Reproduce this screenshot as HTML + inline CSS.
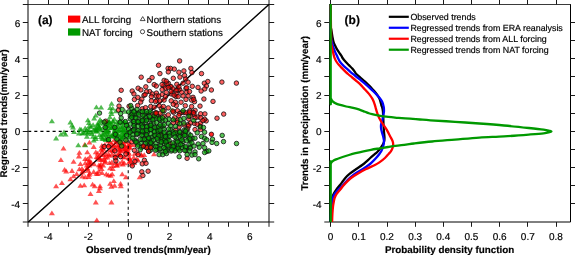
<!DOCTYPE html>
<html><head><meta charset="utf-8"><style>
html,body{margin:0;padding:0;background:#fff;}
body{width:575px;height:255px;overflow:hidden;position:relative;}
svg{position:absolute;left:0;top:0;will-change:transform;}
text{font-family:"Liberation Sans", sans-serif;stroke:#000;stroke-width:0.18px;text-rendering:geometricPrecision;}
</style></head><body>
<svg width="575" height="255" viewBox="0 0 575 255">
<path d="M27.5 4.5H269.5" stroke="#3a3a3a" stroke-width="1.1"/>
<path d="M28.0 4.5V222.0H269.0V4.5" fill="none" stroke="#000" stroke-width="1"/>
<path d="M28.0 0V4.5M28.0 222.0V226.8M48.5 0V4.5M48.5 222.0V226.8M68.5 0V4.5M68.5 222.0V226.8M88.5 0V4.5M88.5 222.0V226.8M108.5 0V4.5M108.5 222.0V226.8M128.5 0V4.5M128.5 222.0V226.8M148.5 0V4.5M148.5 222.0V226.8M168.5 0V4.5M168.5 222.0V226.8M188.5 0V4.5M188.5 222.0V226.8M208.5 0V4.5M208.5 222.0V226.8M228.5 0V4.5M228.5 222.0V226.8M248.5 0V4.5M248.5 222.0V226.8M269.0 0V4.5M269.0 222.0V226.8M22.80 222.0H28.0M269.0 222.0H274.20M22.80 203.5H28.0M269.0 203.5H274.20M22.80 185.5H28.0M269.0 185.5H274.20M22.80 167.5H28.0M269.0 167.5H274.20M22.80 149.5H28.0M269.0 149.5H274.20M22.80 131.5H28.0M269.0 131.5H274.20M22.80 113.5H28.0M269.0 113.5H274.20M22.80 95.5H28.0M269.0 95.5H274.20M22.80 76.5H28.0M269.0 76.5H274.20M22.80 58.5H28.0M269.0 58.5H274.20M22.80 40.5H28.0M269.0 40.5H274.20M22.80 22.5H28.0M269.0 22.5H274.20M22.80 4.5H28.0M269.0 4.5H274.20" stroke="#1a1a1a" stroke-width="1" fill="none"/>
<path d="M329.0 4.5H571.0" stroke="#3a3a3a" stroke-width="1.1"/>
<path d="M329.5 4.5V222.0H570.5V4.5" fill="none" stroke="#000" stroke-width="1"/>
<path d="M330.5 0V4.5M330.5 222.0V226.8M358.5 0V4.5M358.5 222.0V226.8M387.5 0V4.5M387.5 222.0V226.8M415.5 0V4.5M415.5 222.0V226.8M443.5 0V4.5M443.5 222.0V226.8M471.5 0V4.5M471.5 222.0V226.8M499.5 0V4.5M499.5 222.0V226.8M527.5 0V4.5M527.5 222.0V226.8M556.5 0V4.5M556.5 222.0V226.8M324.30 222.0H329.5M324.30 203.5H329.5M570.5 203.5H575.70M324.30 185.5H329.5M570.5 185.5H575.70M324.30 167.5H329.5M570.5 167.5H575.70M324.30 149.5H329.5M570.5 149.5H575.70M324.30 131.5H329.5M570.5 131.5H575.70M324.30 113.5H329.5M570.5 113.5H575.70M324.30 95.5H329.5M570.5 95.5H575.70M324.30 76.5H329.5M570.5 76.5H575.70M324.30 58.5H329.5M570.5 58.5H575.70M324.30 40.5H329.5M570.5 40.5H575.70M324.30 22.5H329.5M570.5 22.5H575.70" stroke="#1a1a1a" stroke-width="1" fill="none"/>
<text x="20.20" y="207.93" font-size="10" text-anchor="end" font-weight="normal" >-4</text>
<text x="321.60" y="207.93" font-size="10" text-anchor="end" font-weight="normal" >-4</text>
<text x="48.15" y="240.20" font-size="10" text-anchor="middle" font-weight="normal" >-4</text>
<text x="20.20" y="171.67" font-size="10" text-anchor="end" font-weight="normal" >-2</text>
<text x="321.60" y="171.67" font-size="10" text-anchor="end" font-weight="normal" >-2</text>
<text x="88.25" y="240.20" font-size="10" text-anchor="middle" font-weight="normal" >-2</text>
<text x="20.20" y="135.41" font-size="10" text-anchor="end" font-weight="normal" >0</text>
<text x="321.60" y="135.41" font-size="10" text-anchor="end" font-weight="normal" >0</text>
<text x="129.55" y="240.20" font-size="10" text-anchor="middle" font-weight="normal" >0</text>
<text x="20.20" y="99.15" font-size="10" text-anchor="end" font-weight="normal" >2</text>
<text x="321.60" y="99.15" font-size="10" text-anchor="end" font-weight="normal" >2</text>
<text x="169.65" y="240.20" font-size="10" text-anchor="middle" font-weight="normal" >2</text>
<text x="20.20" y="62.89" font-size="10" text-anchor="end" font-weight="normal" >4</text>
<text x="321.60" y="62.89" font-size="10" text-anchor="end" font-weight="normal" >4</text>
<text x="209.75" y="240.20" font-size="10" text-anchor="middle" font-weight="normal" >4</text>
<text x="20.20" y="26.63" font-size="10" text-anchor="end" font-weight="normal" >6</text>
<text x="321.60" y="26.63" font-size="10" text-anchor="end" font-weight="normal" >6</text>
<text x="249.85" y="240.20" font-size="10" text-anchor="middle" font-weight="normal" >6</text>
<text x="330.60" y="240.20" font-size="10" text-anchor="middle" font-weight="normal" >0</text>
<text x="358.77" y="240.20" font-size="10" text-anchor="middle" font-weight="normal" >0.1</text>
<text x="386.94" y="240.20" font-size="10" text-anchor="middle" font-weight="normal" >0.2</text>
<text x="415.11" y="240.20" font-size="10" text-anchor="middle" font-weight="normal" >0.3</text>
<text x="443.28" y="240.20" font-size="10" text-anchor="middle" font-weight="normal" >0.4</text>
<text x="471.45" y="240.20" font-size="10" text-anchor="middle" font-weight="normal" >0.5</text>
<text x="499.62" y="240.20" font-size="10" text-anchor="middle" font-weight="normal" >0.6</text>
<text x="527.79" y="240.20" font-size="10" text-anchor="middle" font-weight="normal" >0.7</text>
<text x="555.96" y="240.20" font-size="10" text-anchor="middle" font-weight="normal" >0.8</text>
<text x="148.30" y="253.20" font-size="9.8" text-anchor="middle" font-weight="bold" >Observed trends(mm/year)</text>
<text x="449.60" y="253.00" font-size="9.82" text-anchor="middle" font-weight="bold" >Probability density function</text>
<text transform="translate(6.7,113.3) rotate(-90)" font-size="9.7" font-weight="bold" text-anchor="middle">Regressed trends(mm/year)</text>
<text transform="translate(307.7,113.3) rotate(-90)" font-size="9.8" font-weight="bold" text-anchor="middle">Trends in precipitation (mm/year)</text>
<text x="37.90" y="24.20" font-size="12" text-anchor="start" font-weight="bold" >(a)</text>
<text x="344.60" y="24.20" font-size="12" text-anchor="start" font-weight="bold" >(b)</text>
<g id="scatter">
<path d="M28.30 221.96L268.90 4.40" stroke="#000" stroke-width="1.3"/>
<path d="M138.3 156.8L141.3 152.0L144.3 156.8Z" fill="rgba(255,0,0,0.68)"/>
<path d="M151.0 156.3L154.0 151.5L157.0 156.3Z" fill="rgba(255,0,0,0.68)"/>
<path d="M98.6 170.9L101.6 166.1L104.6 170.9Z" fill="rgba(255,0,0,0.68)"/>
<path d="M101.8 164.5L104.8 159.7L107.8 164.5Z" fill="rgba(255,0,0,0.68)"/>
<path d="M103.3 176.2L106.3 171.4L109.3 176.2Z" fill="rgba(255,0,0,0.68)"/>
<path d="M107.6 177.8L110.6 173.0L113.6 177.8Z" fill="rgba(255,0,0,0.68)"/>
<path d="M109.7 170.9L112.7 166.1L115.7 170.9Z" fill="rgba(255,0,0,0.68)"/>
<path d="M109.2 176.2L112.2 171.4L115.2 176.2Z" fill="rgba(255,0,0,0.68)"/>
<path d="M110.8 183.1L113.8 178.3L116.8 183.1Z" fill="rgba(255,0,0,0.68)"/>
<path d="M107.1 185.7L110.1 180.9L113.1 185.7Z" fill="rgba(255,0,0,0.68)"/>
<path d="M119.2 176.2L122.2 171.4L125.2 176.2Z" fill="rgba(255,0,0,0.68)"/>
<path d="M122.9 179.3L125.9 174.5L128.9 179.3Z" fill="rgba(255,0,0,0.68)"/>
<path d="M119.8 166.6L122.8 161.8L125.8 166.6Z" fill="rgba(255,0,0,0.68)"/>
<path d="M113.9 167.7L116.9 162.9L119.9 167.7Z" fill="rgba(255,0,0,0.68)"/>
<path d="M136.7 179.3L139.7 174.5L142.7 179.3Z" fill="rgba(255,0,0,0.68)"/>
<path d="M135.1 162.4L138.1 157.6L141.1 162.4Z" fill="rgba(255,0,0,0.68)"/>
<path d="M117.6 185.7L120.6 180.9L123.6 185.7Z" fill="rgba(255,0,0,0.68)"/>
<path d="M60.5 150.5L63.5 145.7L66.5 150.5Z" fill="rgba(255,0,0,0.68)"/>
<path d="M57.9 162.1L60.9 157.3L63.9 162.1Z" fill="rgba(255,0,0,0.68)"/>
<path d="M70.6 163.7L73.6 158.9L76.6 163.7Z" fill="rgba(255,0,0,0.68)"/>
<path d="M76.4 154.7L79.4 149.9L82.4 154.7Z" fill="rgba(255,0,0,0.68)"/>
<path d="M75.9 158.4L78.9 153.6L81.9 158.4Z" fill="rgba(255,0,0,0.68)"/>
<path d="M84.3 154.2L87.3 149.4L90.3 154.2Z" fill="rgba(255,0,0,0.68)"/>
<path d="M81.7 146.8L84.7 142.0L87.7 146.8Z" fill="rgba(255,0,0,0.68)"/>
<path d="M86.4 144.6L89.4 139.8L92.4 144.6Z" fill="rgba(255,0,0,0.68)"/>
<path d="M90.7 148.9L93.7 144.1L96.7 148.9Z" fill="rgba(255,0,0,0.68)"/>
<path d="M92.8 154.2L95.8 149.4L98.8 154.2Z" fill="rgba(255,0,0,0.68)"/>
<path d="M82.2 161.1L85.2 156.3L88.2 161.1Z" fill="rgba(255,0,0,0.68)"/>
<path d="M86.4 162.6L89.4 157.8L92.4 162.6Z" fill="rgba(255,0,0,0.68)"/>
<path d="M94.9 159.5L97.9 154.7L100.9 159.5Z" fill="rgba(255,0,0,0.68)"/>
<path d="M77.4 166.0L80.4 161.2L83.4 166.0Z" fill="rgba(255,0,0,0.68)"/>
<path d="M61.6 171.8L64.6 167.0L67.6 171.8Z" fill="rgba(255,0,0,0.68)"/>
<path d="M63.2 173.4L66.2 168.6L69.2 173.4Z" fill="rgba(255,0,0,0.68)"/>
<path d="M69.0 172.9L72.0 168.1L75.0 172.9Z" fill="rgba(255,0,0,0.68)"/>
<path d="M76.4 171.3L79.4 166.5L82.4 171.3Z" fill="rgba(255,0,0,0.68)"/>
<path d="M73.7 176.1L76.7 171.3L79.7 176.1Z" fill="rgba(255,0,0,0.68)"/>
<path d="M70.6 178.2L73.6 173.4L76.6 178.2Z" fill="rgba(255,0,0,0.68)"/>
<path d="M67.4 181.3L70.4 176.5L73.4 181.3Z" fill="rgba(255,0,0,0.68)"/>
<path d="M58.9 185.1L61.9 180.3L64.9 185.1Z" fill="rgba(255,0,0,0.68)"/>
<path d="M53.1 188.2L56.1 183.4L59.1 188.2Z" fill="rgba(255,0,0,0.68)"/>
<path d="M82.2 179.2L85.2 174.4L88.2 179.2Z" fill="rgba(255,0,0,0.68)"/>
<path d="M90.7 173.9L93.7 169.1L96.7 173.9Z" fill="rgba(255,0,0,0.68)"/>
<path d="M99.1 175.0L102.1 170.2L105.1 175.0Z" fill="rgba(255,0,0,0.68)"/>
<path d="M77.4 187.7L80.4 182.9L83.4 187.7Z" fill="rgba(255,0,0,0.68)"/>
<path d="M81.2 187.2L84.2 182.4L87.2 187.2Z" fill="rgba(255,0,0,0.68)"/>
<path d="M89.6 186.6L92.6 181.8L95.6 186.6Z" fill="rgba(255,0,0,0.68)"/>
<path d="M91.7 188.2L94.7 183.4L97.7 188.2Z" fill="rgba(255,0,0,0.68)"/>
<path d="M97.0 188.2L100.0 183.4L103.0 188.2Z" fill="rgba(255,0,0,0.68)"/>
<path d="M84.3 170.2L87.3 165.4L90.3 170.2Z" fill="rgba(255,0,0,0.68)"/>
<path d="M86.4 167.6L89.4 162.8L92.4 167.6Z" fill="rgba(255,0,0,0.68)"/>
<path d="M96.9 190.2L99.9 185.4L102.9 190.2Z" fill="rgba(255,0,0,0.68)"/>
<path d="M95.9 193.0L98.9 188.2L101.9 193.0Z" fill="rgba(255,0,0,0.68)"/>
<path d="M87.5 196.1L90.5 191.3L93.5 196.1Z" fill="rgba(255,0,0,0.68)"/>
<path d="M92.8 204.4L95.8 199.6L98.8 204.4Z" fill="rgba(255,0,0,0.68)"/>
<path d="M108.4 204.4L111.4 199.6L114.4 204.4Z" fill="rgba(255,0,0,0.68)"/>
<path d="M108.4 188.8L111.4 184.0L114.4 188.8Z" fill="rgba(255,0,0,0.68)"/>
<path d="M111.6 187.7L114.6 182.9L117.6 187.7Z" fill="rgba(255,0,0,0.68)"/>
<path d="M117.8 188.2L120.8 183.4L123.8 188.2Z" fill="rgba(255,0,0,0.68)"/>
<path d="M105.3 177.3L108.3 172.5L111.3 177.3Z" fill="rgba(255,0,0,0.68)"/>
<path d="M48.9 215.3L51.9 210.5L54.9 215.3Z" fill="rgba(255,0,0,0.68)"/>
<path d="M93.8 222.2L96.8 217.4L99.8 222.2Z" fill="rgba(255,0,0,0.68)"/>
<path d="M141.2 157.1L144.2 152.3L147.2 157.1Z" fill="rgba(255,0,0,0.68)"/>
<path d="M109.8 153.3L112.8 148.5L115.8 153.3Z" fill="rgba(255,0,0,0.68)"/>
<path d="M106.5 165.0L109.5 160.2L112.5 165.0Z" fill="rgba(255,0,0,0.68)"/>
<path d="M105.2 147.5L108.2 142.7L111.2 147.5Z" fill="rgba(255,0,0,0.68)"/>
<path d="M97.4 156.6L100.4 151.8L103.4 156.6Z" fill="rgba(255,0,0,0.68)"/>
<path d="M98.1 151.8L101.1 147.0L104.1 151.8Z" fill="rgba(255,0,0,0.68)"/>
<path d="M99.2 153.7L102.2 148.9L105.2 153.7Z" fill="rgba(255,0,0,0.68)"/>
<path d="M94.8 176.1L97.8 171.3L100.8 176.1Z" fill="rgba(255,0,0,0.68)"/>
<path d="M102.3 163.2L105.3 158.4L108.3 163.2Z" fill="rgba(255,0,0,0.68)"/>
<path d="M110.1 148.4L113.1 143.6L116.1 148.4Z" fill="rgba(255,0,0,0.68)"/>
<path d="M125.0 147.6L128.0 142.8L131.0 147.6Z" fill="rgba(255,0,0,0.68)"/>
<path d="M99.0 162.0L102.0 157.2L105.0 162.0Z" fill="rgba(255,0,0,0.68)"/>
<path d="M93.4 175.7L96.4 170.9L99.4 175.7Z" fill="rgba(255,0,0,0.68)"/>
<path d="M121.8 159.3L124.8 154.5L127.8 159.3Z" fill="rgba(255,0,0,0.68)"/>
<path d="M112.6 160.3L115.6 155.5L118.6 160.3Z" fill="rgba(255,0,0,0.68)"/>
<path d="M111.4 147.8L114.4 143.0L117.4 147.8Z" fill="rgba(255,0,0,0.68)"/>
<path d="M122.2 151.8L125.2 147.0L128.2 151.8Z" fill="rgba(255,0,0,0.68)"/>
<path d="M122.4 153.4L125.4 148.6L128.4 153.4Z" fill="rgba(255,0,0,0.68)"/>
<path d="M101.2 161.5L104.2 156.7L107.2 161.5Z" fill="rgba(255,0,0,0.68)"/>
<path d="M108.9 164.2L111.9 159.4L114.9 164.2Z" fill="rgba(255,0,0,0.68)"/>
<path d="M107.4 144.2L110.4 139.4L113.4 144.2Z" fill="rgba(255,0,0,0.68)"/>
<path d="M122.2 148.8L125.2 144.0L128.2 148.8Z" fill="rgba(255,0,0,0.68)"/>
<path d="M113.7 143.6L116.7 138.8L119.7 143.6Z" fill="rgba(255,0,0,0.68)"/>
<path d="M109.0 152.0L112.0 147.2L115.0 152.0Z" fill="rgba(255,0,0,0.68)"/>
<path d="M86.8 175.4L89.8 170.6L92.8 175.4Z" fill="rgba(255,0,0,0.68)"/>
<path d="M119.4 150.8L122.4 146.0L125.4 150.8Z" fill="rgba(255,0,0,0.68)"/>
<path d="M97.0 169.3L100.0 164.5L103.0 169.3Z" fill="rgba(255,0,0,0.68)"/>
<path d="M83.9 167.5L86.9 162.7L89.9 167.5Z" fill="rgba(255,0,0,0.68)"/>
<path d="M79.3 178.5L82.3 173.7L85.3 178.5Z" fill="rgba(255,0,0,0.68)"/>
<path d="M117.3 147.4L120.3 142.6L123.3 147.4Z" fill="rgba(255,0,0,0.68)"/>
<path d="M126.5 147.2L129.5 142.4L132.5 147.2Z" fill="rgba(255,0,0,0.68)"/>
<path d="M107.0 170.3L110.0 165.5L113.0 170.3Z" fill="rgba(255,0,0,0.68)"/>
<path d="M99.6 150.1L102.6 145.3L105.6 150.1Z" fill="rgba(255,0,0,0.68)"/>
<path d="M120.5 146.3L123.5 141.5L126.5 146.3Z" fill="rgba(255,0,0,0.68)"/>
<path d="M105.4 156.6L108.4 151.8L111.4 156.6Z" fill="rgba(255,0,0,0.68)"/>
<path d="M101.8 146.9L104.8 142.1L107.8 146.9Z" fill="rgba(255,0,0,0.68)"/>
<path d="M124.9 151.4L127.9 146.6L130.9 151.4Z" fill="rgba(255,0,0,0.68)"/>
<path d="M106.5 157.7L109.5 152.9L112.5 157.7Z" fill="rgba(255,0,0,0.68)"/>
<path d="M87.1 158.6L90.1 153.8L93.1 158.6Z" fill="rgba(255,0,0,0.68)"/>
<path d="M88.0 164.4L91.0 159.6L94.0 164.4Z" fill="rgba(255,0,0,0.68)"/>
<path d="M111.9 151.3L114.9 146.5L117.9 151.3Z" fill="rgba(255,0,0,0.68)"/>
<path d="M97.0 161.8L100.0 157.0L103.0 161.8Z" fill="rgba(255,0,0,0.68)"/>
<path d="M102.1 159.4L105.1 154.6L108.1 159.4Z" fill="rgba(255,0,0,0.68)"/>
<path d="M91.1 166.3L94.1 161.5L97.1 166.3Z" fill="rgba(255,0,0,0.68)"/>
<path d="M86.0 176.7L89.0 171.9L92.0 176.7Z" fill="rgba(255,0,0,0.68)"/>
<path d="M105.2 143.3L108.2 138.5L111.2 143.3Z" fill="rgba(255,0,0,0.68)"/>
<path d="M116.7 155.6L119.7 150.8L122.7 155.6Z" fill="rgba(255,0,0,0.68)"/>
<path d="M106.7 152.6L109.7 147.8L112.7 152.6Z" fill="rgba(255,0,0,0.68)"/>
<path d="M126.1 155.8L129.1 151.0L132.1 155.8Z" fill="rgba(255,0,0,0.68)"/>
<path d="M96.4 160.2L99.4 155.4L102.4 160.2Z" fill="rgba(255,0,0,0.68)"/>
<path d="M85.8 164.3L88.8 159.5L91.8 164.3Z" fill="rgba(255,0,0,0.68)"/>
<path d="M79.0 170.7L82.0 165.9L85.0 170.7Z" fill="rgba(255,0,0,0.68)"/>
<path d="M95.4 159.4L98.4 154.6L101.4 159.4Z" fill="rgba(255,0,0,0.68)"/>
<path d="M114.2 156.7L117.2 151.9L120.2 156.7Z" fill="rgba(255,0,0,0.68)"/>
<path d="M79.2 174.5L82.2 169.7L85.2 174.5Z" fill="rgba(255,0,0,0.68)"/>
<path d="M111.0 142.3L114.0 137.5L117.0 142.3Z" fill="rgba(255,0,0,0.68)"/>
<path d="M93.6 159.1L96.6 154.3L99.6 159.1Z" fill="rgba(255,0,0,0.68)"/>
<path d="M116.5 151.8L119.5 147.0L122.5 151.8Z" fill="rgba(255,0,0,0.68)"/>
<path d="M100.4 151.4L103.4 146.6L106.4 151.4Z" fill="rgba(255,0,0,0.68)"/>
<path d="M97.2 167.8L100.2 163.0L103.2 167.8Z" fill="rgba(255,0,0,0.68)"/>
<path d="M117.5 145.0L120.5 140.2L123.5 145.0Z" fill="rgba(255,0,0,0.68)"/>
<path d="M108.7 146.3L111.7 141.5L114.7 146.3Z" fill="rgba(255,0,0,0.68)"/>
<path d="M109.9 167.9L112.9 163.1L115.9 167.9Z" fill="rgba(255,0,0,0.68)"/>
<path d="M111.6 157.1L114.6 152.3L117.6 157.1Z" fill="rgba(255,0,0,0.68)"/>
<path d="M84.4 161.2L87.4 156.4L90.4 161.2Z" fill="rgba(255,0,0,0.68)"/>
<path d="M100.1 157.1L103.1 152.3L106.1 157.1Z" fill="rgba(255,0,0,0.68)"/>
<path d="M125.0 154.2L128.0 149.4L131.0 154.2Z" fill="rgba(255,0,0,0.68)"/>
<path d="M113.8 167.0L116.8 162.2L119.8 167.0Z" fill="rgba(255,0,0,0.68)"/>
<path d="M86.7 165.5L89.7 160.7L92.7 165.5Z" fill="rgba(255,0,0,0.68)"/>
<path d="M95.9 167.3L98.9 162.5L101.9 167.3Z" fill="rgba(255,0,0,0.68)"/>
<path d="M112.9 165.0L115.9 160.2L118.9 165.0Z" fill="rgba(255,0,0,0.68)"/>
<path d="M80.2 173.1L83.2 168.3L86.2 173.1Z" fill="rgba(255,0,0,0.68)"/>
<path d="M114.9 149.1L117.9 144.3L120.9 149.1Z" fill="rgba(255,0,0,0.68)"/>
<path d="M85.0 172.7L88.0 167.9L91.0 172.7Z" fill="rgba(255,0,0,0.68)"/>
<path d="M82.2 165.2L85.2 160.4L88.2 165.2Z" fill="rgba(255,0,0,0.68)"/>
<path d="M104.4 159.5L107.4 154.7L110.4 159.5Z" fill="rgba(255,0,0,0.68)"/>
<path d="M85.7 179.0L88.7 174.2L91.7 179.0Z" fill="rgba(255,0,0,0.68)"/>
<path d="M100.2 167.6L103.2 162.8L106.2 167.6Z" fill="rgba(255,0,0,0.68)"/>
<path d="M84.0 170.6L87.0 165.8L90.0 170.6Z" fill="rgba(255,0,0,0.68)"/>
<path d="M115.8 157.1L118.8 152.3L121.8 157.1Z" fill="rgba(255,0,0,0.68)"/>
<path d="M103.0 156.2L106.0 151.4L109.0 156.2Z" fill="rgba(255,0,0,0.68)"/>
<path d="M122.6 144.3L125.6 139.5L128.6 144.3Z" fill="rgba(255,0,0,0.68)"/>
<path d="M117.9 153.2L120.9 148.4L123.9 153.2Z" fill="rgba(255,0,0,0.68)"/>
<path d="M109.0 156.6L112.0 151.8L115.0 156.6Z" fill="rgba(255,0,0,0.68)"/>
<path d="M118.7 144.9L121.7 140.1L124.7 144.9Z" fill="rgba(255,0,0,0.68)"/>
<path d="M116.5 165.8L119.5 161.0L122.5 165.8Z" fill="rgba(255,0,0,0.68)"/>
<path d="M94.7 155.5L97.7 150.7L100.7 155.5Z" fill="rgba(255,0,0,0.68)"/>
<path d="M98.8 147.8L101.8 143.0L104.8 147.8Z" fill="rgba(255,0,0,0.68)"/>
<path d="M98.0 166.2L101.0 161.4L104.0 166.2Z" fill="rgba(255,0,0,0.68)"/>
<path d="M116.3 150.4L119.3 145.6L122.3 150.4Z" fill="rgba(255,0,0,0.68)"/>
<path d="M95.8 173.4L98.8 168.6L101.8 173.4Z" fill="rgba(255,0,0,0.68)"/>
<path d="M117.5 145.4L120.5 140.6L123.5 145.4Z" fill="rgba(255,0,0,0.68)"/>
<path d="M123.1 143.3L126.1 138.5L129.1 143.3Z" fill="rgba(255,0,0,0.68)"/>
<path d="M121.1 151.2L124.1 146.4L127.1 151.2Z" fill="rgba(255,0,0,0.68)"/>
<path d="M113.2 143.7L116.2 138.9L119.2 143.7Z" fill="rgba(255,0,0,0.68)"/>
<path d="M119.2 163.6L122.2 158.8L125.2 163.6Z" fill="rgba(255,0,0,0.68)"/>
<path d="M114.1 147.3L117.1 142.5L120.1 147.3Z" fill="rgba(255,0,0,0.68)"/>
<path d="M126.6 149.1L129.6 144.3L132.6 149.1Z" fill="rgba(255,0,0,0.68)"/>
<path d="M123.6 152.8L126.6 148.0L129.6 152.8Z" fill="rgba(255,0,0,0.68)"/>
<path d="M117.3 157.1L120.3 152.3L123.3 157.1Z" fill="rgba(255,0,0,0.68)"/>
<path d="M125.5 160.2L128.5 155.4L131.5 160.2Z" fill="rgba(255,0,0,0.68)"/>
<path d="M125.0 156.8L128.0 152.0L131.0 156.8Z" fill="rgba(255,0,0,0.68)"/>
<path d="M120.1 159.2L123.1 154.4L126.1 159.2Z" fill="rgba(255,0,0,0.68)"/>
<path d="M121.3 165.2L124.3 160.4L127.3 165.2Z" fill="rgba(255,0,0,0.68)"/>
<path d="M125.9 164.6L128.9 159.8L131.9 164.6Z" fill="rgba(255,0,0,0.68)"/>
<path d="M116.7 152.5L119.7 147.7L122.7 152.5Z" fill="rgba(255,0,0,0.68)"/>
<path d="M122.0 148.4L125.0 143.6L128.0 148.4Z" fill="rgba(255,0,0,0.68)"/>
<path d="M127.3 162.4L130.3 157.6L133.3 162.4Z" fill="rgba(255,0,0,0.68)"/>
<path d="M117.8 142.7L120.8 137.9L123.8 142.7Z" fill="rgba(255,0,0,0.68)"/>
<path d="M128.4 166.4L131.4 161.6L134.4 166.4Z" fill="rgba(255,0,0,0.68)"/>
<path d="M126.9 160.5L129.9 155.7L132.9 160.5Z" fill="rgba(255,0,0,0.68)"/>
<path d="M126.3 150.0L129.3 145.2L132.3 150.0Z" fill="rgba(255,0,0,0.68)"/>
<path d="M134.6 154.9L137.6 150.1L140.6 154.9Z" fill="rgba(255,0,0,0.68)"/>
<path d="M131.8 155.7L134.8 150.9L137.8 155.7Z" fill="rgba(255,0,0,0.68)"/>
<path d="M127.9 163.4L130.9 158.6L133.9 163.4Z" fill="rgba(255,0,0,0.68)"/>
<path d="M131.1 165.0L134.1 160.2L137.1 165.0Z" fill="rgba(255,0,0,0.68)"/>
<path d="M130.7 146.9L133.7 142.1L136.7 146.9Z" fill="rgba(255,0,0,0.68)"/>
<path d="M130.7 159.5L133.7 154.7L136.7 159.5Z" fill="rgba(255,0,0,0.68)"/>
<path d="M138.5 157.7L141.5 152.9L144.5 157.7Z" fill="rgba(255,0,0,0.68)"/>
<path d="M127.1 145.8L130.1 141.0L133.1 145.8Z" fill="rgba(255,0,0,0.68)"/>
<path d="M133.7 161.1L136.7 156.3L139.7 161.1Z" fill="rgba(255,0,0,0.68)"/>
<path d="M28.30 221.96L268.90 4.40" stroke="#000" stroke-opacity="0.35" stroke-width="1.2"/>
<path d="M28.30 131.4H128.55" stroke="#000" stroke-width="1.2" fill="none" stroke-dasharray="3.05 3.05" stroke-dashoffset="0.1"/>
<path d="M128.25 131.3V222" stroke="#000" stroke-opacity="0.85" stroke-width="1.2" fill="none" stroke-dasharray="3.05 3.05" stroke-dashoffset="3.8"/>
<path d="M159.7 113.7L162.7 108.9L165.7 113.7Z" fill="rgba(0,155,0,0.68)"/>
<path d="M168.9 112.3L171.9 107.5L174.9 112.3Z" fill="rgba(0,155,0,0.68)"/>
<path d="M108.6 105.8L111.6 101.0L114.6 105.8Z" fill="rgba(0,155,0,0.68)"/>
<path d="M107.1 110.0L110.1 105.2L113.1 110.0Z" fill="rgba(0,155,0,0.68)"/>
<path d="M109.7 110.5L112.7 105.7L115.7 110.5Z" fill="rgba(0,155,0,0.68)"/>
<path d="M98.1 109.5L101.1 104.7L104.1 109.5Z" fill="rgba(0,155,0,0.68)"/>
<path d="M122.4 113.7L125.4 108.9L128.4 113.7Z" fill="rgba(0,155,0,0.68)"/>
<path d="M112.9 113.2L115.9 108.4L118.9 113.2Z" fill="rgba(0,155,0,0.68)"/>
<path d="M108.1 113.7L111.1 108.9L114.1 113.7Z" fill="rgba(0,155,0,0.68)"/>
<path d="M53.1 140.4L56.1 135.6L59.1 140.4Z" fill="rgba(0,155,0,0.68)"/>
<path d="M75.3 147.3L78.3 142.5L81.3 147.3Z" fill="rgba(0,155,0,0.68)"/>
<path d="M82.2 147.3L85.2 142.5L88.2 147.3Z" fill="rgba(0,155,0,0.68)"/>
<path d="M90.7 142.5L93.7 137.7L96.7 142.5Z" fill="rgba(0,155,0,0.68)"/>
<path d="M99.1 140.4L102.1 135.6L105.1 140.4Z" fill="rgba(0,155,0,0.68)"/>
<path d="M48.9 123.3L51.9 118.5L54.9 123.3Z" fill="rgba(0,155,0,0.68)"/>
<path d="M67.4 124.4L70.4 119.6L73.4 124.4Z" fill="rgba(0,155,0,0.68)"/>
<path d="M69.0 127.5L72.0 122.7L75.0 127.5Z" fill="rgba(0,155,0,0.68)"/>
<path d="M70.0 129.6L73.0 124.8L76.0 129.6Z" fill="rgba(0,155,0,0.68)"/>
<path d="M61.0 134.4L64.0 129.6L67.0 134.4Z" fill="rgba(0,155,0,0.68)"/>
<path d="M57.9 136.5L60.9 131.7L63.9 136.5Z" fill="rgba(0,155,0,0.68)"/>
<path d="M62.6 136.5L65.6 131.7L68.6 136.5Z" fill="rgba(0,155,0,0.68)"/>
<path d="M71.1 133.9L74.1 129.1L77.1 133.9Z" fill="rgba(0,155,0,0.68)"/>
<path d="M76.9 131.2L79.9 126.4L82.9 131.2Z" fill="rgba(0,155,0,0.68)"/>
<path d="M75.9 135.5L78.9 130.7L81.9 135.5Z" fill="rgba(0,155,0,0.68)"/>
<path d="M80.6 134.9L83.6 130.1L86.6 134.9Z" fill="rgba(0,155,0,0.68)"/>
<path d="M82.2 130.2L85.2 125.4L88.2 130.2Z" fill="rgba(0,155,0,0.68)"/>
<path d="M84.9 122.2L87.9 117.4L90.9 122.2Z" fill="rgba(0,155,0,0.68)"/>
<path d="M85.9 124.9L88.9 120.1L91.9 124.9Z" fill="rgba(0,155,0,0.68)"/>
<path d="M86.4 128.1L89.4 123.3L92.4 128.1Z" fill="rgba(0,155,0,0.68)"/>
<path d="M91.2 120.6L94.2 115.8L97.2 120.6Z" fill="rgba(0,155,0,0.68)"/>
<path d="M92.8 117.5L95.8 112.7L98.8 117.5Z" fill="rgba(0,155,0,0.68)"/>
<path d="M90.1 127.0L93.1 122.2L96.1 127.0Z" fill="rgba(0,155,0,0.68)"/>
<path d="M97.0 121.7L100.0 116.9L103.0 121.7Z" fill="rgba(0,155,0,0.68)"/>
<path d="M96.0 124.9L99.0 120.1L102.0 124.9Z" fill="rgba(0,155,0,0.68)"/>
<path d="M85.4 134.4L88.4 129.6L91.4 134.4Z" fill="rgba(0,155,0,0.68)"/>
<path d="M93.4 109.3L96.4 104.5L99.4 109.3Z" fill="rgba(0,155,0,0.68)"/>
<path d="M106.9 119.2L109.9 114.4L112.9 119.2Z" fill="rgba(0,155,0,0.68)"/>
<path d="M108.5 116.1L111.5 111.3L114.5 116.1Z" fill="rgba(0,155,0,0.68)"/>
<path d="M105.9 123.5L108.9 118.7L111.9 123.5Z" fill="rgba(0,155,0,0.68)"/>
<path d="M110.1 123.5L113.1 118.7L116.1 123.5Z" fill="rgba(0,155,0,0.68)"/>
<path d="M103.7 127.2L106.7 122.4L109.7 127.2Z" fill="rgba(0,155,0,0.68)"/>
<path d="M114.3 126.6L117.3 121.8L120.3 126.6Z" fill="rgba(0,155,0,0.68)"/>
<path d="M83.9 138.8L86.9 134.0L89.9 138.8Z" fill="rgba(0,155,0,0.68)"/>
<path d="M116.0 125.2L119.0 120.4L122.0 125.2Z" fill="rgba(0,155,0,0.68)"/>
<path d="M102.3 129.6L105.3 124.8L108.3 129.6Z" fill="rgba(0,155,0,0.68)"/>
<path d="M110.2 137.4L113.2 132.6L116.2 137.4Z" fill="rgba(0,155,0,0.68)"/>
<path d="M119.6 129.3L122.6 124.5L125.6 129.3Z" fill="rgba(0,155,0,0.68)"/>
<path d="M99.7 135.9L102.7 131.1L105.7 135.9Z" fill="rgba(0,155,0,0.68)"/>
<path d="M78.3 131.8L81.3 127.0L84.3 131.8Z" fill="rgba(0,155,0,0.68)"/>
<path d="M124.9 128.1L127.9 123.3L130.9 128.1Z" fill="rgba(0,155,0,0.68)"/>
<path d="M88.0 129.0L91.0 124.2L94.0 129.0Z" fill="rgba(0,155,0,0.68)"/>
<path d="M99.3 130.7L102.3 125.9L105.3 130.7Z" fill="rgba(0,155,0,0.68)"/>
<path d="M119.7 132.1L122.7 127.3L125.7 132.1Z" fill="rgba(0,155,0,0.68)"/>
<path d="M109.8 123.6L112.8 118.8L115.8 123.6Z" fill="rgba(0,155,0,0.68)"/>
<path d="M113.8 135.7L116.8 130.9L119.8 135.7Z" fill="rgba(0,155,0,0.68)"/>
<path d="M119.3 134.7L122.3 129.9L125.3 134.7Z" fill="rgba(0,155,0,0.68)"/>
<path d="M92.5 132.8L95.5 128.0L98.5 132.8Z" fill="rgba(0,155,0,0.68)"/>
<path d="M122.0 138.8L125.0 134.0L128.0 138.8Z" fill="rgba(0,155,0,0.68)"/>
<path d="M102.8 132.8L105.8 128.0L108.8 132.8Z" fill="rgba(0,155,0,0.68)"/>
<path d="M117.7 128.8L120.7 124.0L123.7 128.8Z" fill="rgba(0,155,0,0.68)"/>
<path d="M85.8 131.9L88.8 127.1L91.8 131.9Z" fill="rgba(0,155,0,0.68)"/>
<path d="M112.9 134.8L115.9 130.0L118.9 134.8Z" fill="rgba(0,155,0,0.68)"/>
<path d="M96.1 129.4L99.1 124.6L102.1 129.4Z" fill="rgba(0,155,0,0.68)"/>
<path d="M102.9 137.2L105.9 132.4L108.9 137.2Z" fill="rgba(0,155,0,0.68)"/>
<path d="M103.6 128.3L106.6 123.5L109.6 128.3Z" fill="rgba(0,155,0,0.68)"/>
<path d="M79.2 135.5L82.2 130.7L85.2 135.5Z" fill="rgba(0,155,0,0.68)"/>
<path d="M127.1 132.9L130.1 128.1L133.1 132.9Z" fill="rgba(0,155,0,0.68)"/>
<path d="M102.6 141.9L105.6 137.1L108.6 141.9Z" fill="rgba(0,155,0,0.68)"/>
<path d="M116.3 131.7L119.3 126.9L122.3 131.7Z" fill="rgba(0,155,0,0.68)"/>
<path d="M120.9 124.6L123.9 119.8L126.9 124.6Z" fill="rgba(0,155,0,0.68)"/>
<path d="M106.5 129.9L109.5 125.1L112.5 129.9Z" fill="rgba(0,155,0,0.68)"/>
<path d="M90.7 131.9L93.7 127.1L96.7 131.9Z" fill="rgba(0,155,0,0.68)"/>
<path d="M117.0 138.2L120.0 133.4L123.0 138.2Z" fill="rgba(0,155,0,0.68)"/>
<path d="M122.2 136.3L125.2 131.5L128.2 136.3Z" fill="rgba(0,155,0,0.68)"/>
<path d="M118.3 131.2L121.3 126.4L124.3 131.2Z" fill="rgba(0,155,0,0.68)"/>
<path d="M106.1 123.9L109.1 119.1L112.1 123.9Z" fill="rgba(0,155,0,0.68)"/>
<path d="M95.2 127.3L98.2 122.5L101.2 127.3Z" fill="rgba(0,155,0,0.68)"/>
<path d="M104.5 133.6L107.5 128.8L110.5 133.6Z" fill="rgba(0,155,0,0.68)"/>
<path d="M108.2 129.8L111.2 125.0L114.2 129.8Z" fill="rgba(0,155,0,0.68)"/>
<path d="M120.9 137.7L123.9 132.9L126.9 137.7Z" fill="rgba(0,155,0,0.68)"/>
<path d="M90.0 138.7L93.0 133.9L96.0 138.7Z" fill="rgba(0,155,0,0.68)"/>
<path d="M111.3 121.2L114.3 116.4L117.3 121.2Z" fill="rgba(0,155,0,0.68)"/>
<path d="M82.6 133.7L85.6 128.9L88.6 133.7Z" fill="rgba(0,155,0,0.68)"/>
<path d="M113.3 129.8L116.3 125.0L119.3 129.8Z" fill="rgba(0,155,0,0.68)"/>
<path d="M93.4 130.2L96.4 125.4L99.4 130.2Z" fill="rgba(0,155,0,0.68)"/>
<path d="M98.5 123.6L101.5 118.8L104.5 123.6Z" fill="rgba(0,155,0,0.68)"/>
<path d="M103.0 124.1L106.0 119.3L109.0 124.1Z" fill="rgba(0,155,0,0.68)"/>
<path d="M107.9 138.1L110.9 133.3L113.9 138.1Z" fill="rgba(0,155,0,0.68)"/>
<path d="M84.5 135.8L87.5 131.0L90.5 135.8Z" fill="rgba(0,155,0,0.68)"/>
<path d="M111.6 131.8L114.6 127.0L117.6 131.8Z" fill="rgba(0,155,0,0.68)"/>
<path d="M88.4 134.2L91.4 129.4L94.4 134.2Z" fill="rgba(0,155,0,0.68)"/>
<path d="M97.1 132.5L100.1 127.7L103.1 132.5Z" fill="rgba(0,155,0,0.68)"/>
<path d="M93.4 133.8L96.4 129.0L99.4 133.8Z" fill="rgba(0,155,0,0.68)"/>
<path d="M126.4 139.4L129.4 134.6L132.4 139.4Z" fill="rgba(0,155,0,0.68)"/>
<path d="M92.6 139.0L95.6 134.2L98.6 139.0Z" fill="rgba(0,155,0,0.68)"/>
<path d="M92.8 140.9L95.8 136.1L98.8 140.9Z" fill="rgba(0,155,0,0.68)"/>
<path d="M114.9 128.9L117.9 124.1L120.9 128.9Z" fill="rgba(0,155,0,0.68)"/>
<path d="M118.8 141.4L121.8 136.6L124.8 141.4Z" fill="rgba(0,155,0,0.68)"/>
<path d="M112.9 131.0L115.9 126.2L118.9 131.0Z" fill="rgba(0,155,0,0.68)"/>
<path d="M92.1 130.8L95.1 126.0L98.1 130.8Z" fill="rgba(0,155,0,0.68)"/>
<path d="M127.3 137.3L130.3 132.5L133.3 137.3Z" fill="rgba(0,155,0,0.68)"/>
<path d="M111.4 138.6L114.4 133.8L117.4 138.6Z" fill="rgba(0,155,0,0.68)"/>
<path d="M122.0 135.1L125.0 130.3L128.0 135.1Z" fill="rgba(0,155,0,0.68)"/>
<path d="M89.0 136.0L92.0 131.2L95.0 136.0Z" fill="rgba(0,155,0,0.68)"/>
<path d="M123.5 124.2L126.5 119.4L129.5 124.2Z" fill="rgba(0,155,0,0.68)"/>
<path d="M115.7 133.1L118.7 128.3L121.7 133.1Z" fill="rgba(0,155,0,0.68)"/>
<path d="M119.9 127.8L122.9 123.0L125.9 127.8Z" fill="rgba(0,155,0,0.68)"/>
<path d="M94.4 126.0L97.4 121.2L100.4 126.0Z" fill="rgba(0,155,0,0.68)"/>
<path d="M121.2 133.2L124.2 128.4L127.2 133.2Z" fill="rgba(0,155,0,0.68)"/>
<path d="M83.9 132.0L86.9 127.2L89.9 132.0Z" fill="rgba(0,155,0,0.68)"/>
<path d="M122.4 132.3L125.4 127.5L128.4 132.3Z" fill="rgba(0,155,0,0.68)"/>
<path d="M124.2 129.8L127.2 125.0L130.2 129.8Z" fill="rgba(0,155,0,0.68)"/>
<path d="M114.2 136.9L117.2 132.1L120.2 136.9Z" fill="rgba(0,155,0,0.68)"/>
<path d="M118.2 140.7L121.2 135.9L124.2 140.7Z" fill="rgba(0,155,0,0.68)"/>
<path d="M94.0 131.1L97.0 126.3L100.0 131.1Z" fill="rgba(0,155,0,0.68)"/>
<path d="M125.1 134.9L128.1 130.1L131.1 134.9Z" fill="rgba(0,155,0,0.68)"/>
<path d="M108.9 126.5L111.9 121.7L114.9 126.5Z" fill="rgba(0,155,0,0.68)"/>
<path d="M111.5 133.4L114.5 128.6L117.5 133.4Z" fill="rgba(0,155,0,0.68)"/>
<path d="M102.5 140.5L105.5 135.7L108.5 140.5Z" fill="rgba(0,155,0,0.68)"/>
<path d="M119.0 124.7L122.0 119.9L125.0 124.7Z" fill="rgba(0,155,0,0.68)"/>
<path d="M120.1 124.2L123.1 119.4L126.1 124.2Z" fill="rgba(0,155,0,0.68)"/>
<path d="M114.0 124.0L117.0 119.2L120.0 124.0Z" fill="rgba(0,155,0,0.68)"/>
<path d="M100.1 125.8L103.1 121.0L106.1 125.8Z" fill="rgba(0,155,0,0.68)"/>
<path d="M126.4 139.6L129.4 134.8L132.4 139.6Z" fill="rgba(0,155,0,0.68)"/>
<path d="M111.3 135.5L114.3 130.7L117.3 135.5Z" fill="rgba(0,155,0,0.68)"/>
<path d="M100.0 141.1L103.0 136.3L106.0 141.1Z" fill="rgba(0,155,0,0.68)"/>
<path d="M123.4 127.6L126.4 122.8L129.4 127.6Z" fill="rgba(0,155,0,0.68)"/>
<path d="M105.3 124.8L108.3 120.0L111.3 124.8Z" fill="rgba(0,155,0,0.68)"/>
<path d="M103.2 134.0L106.2 129.2L109.2 134.0Z" fill="rgba(0,155,0,0.68)"/>
<path d="M104.5 127.8L107.5 123.0L110.5 127.8Z" fill="rgba(0,155,0,0.68)"/>
<path d="M120.8 131.4L123.8 126.6L126.8 131.4Z" fill="rgba(0,155,0,0.68)"/>
<path d="M103.7 131.4L106.7 126.6L109.7 131.4Z" fill="rgba(0,155,0,0.68)"/>
<path d="M117.0 122.5L120.0 117.7L123.0 122.5Z" fill="rgba(0,155,0,0.68)"/>
<path d="M118.5 139.0L121.5 134.2L124.5 139.0Z" fill="rgba(0,155,0,0.68)"/>
<path d="M105.5 133.4L108.5 128.6L111.5 133.4Z" fill="rgba(0,155,0,0.68)"/>
<path d="M99.7 137.2L102.7 132.4L105.7 137.2Z" fill="rgba(0,155,0,0.68)"/>
<path d="M110.8 137.6L113.8 132.8L116.8 137.6Z" fill="rgba(0,155,0,0.68)"/>
<path d="M96.7 137.0L99.7 132.2L102.7 137.0Z" fill="rgba(0,155,0,0.68)"/>
<path d="M120.1 139.4L123.1 134.6L126.1 139.4Z" fill="rgba(0,155,0,0.68)"/>
<path d="M96.1 128.5L99.1 123.7L102.1 128.5Z" fill="rgba(0,155,0,0.68)"/>
<path d="M113.8 140.6L116.8 135.8L119.8 140.6Z" fill="rgba(0,155,0,0.68)"/>
<path d="M104.6 140.7L107.6 135.9L110.6 140.7Z" fill="rgba(0,155,0,0.68)"/>
<path d="M111.5 127.9L114.5 123.1L117.5 127.9Z" fill="rgba(0,155,0,0.68)"/>
<path d="M103.8 125.0L106.8 120.2L109.8 125.0Z" fill="rgba(0,155,0,0.68)"/>
<path d="M106.8 126.3L109.8 121.5L112.8 126.3Z" fill="rgba(0,155,0,0.68)"/>
<path d="M113.2 138.7L116.2 133.9L119.2 138.7Z" fill="rgba(0,155,0,0.68)"/>
<path d="M108.5 130.2L111.5 125.4L114.5 130.2Z" fill="rgba(0,155,0,0.68)"/>
<path d="M121.5 124.0L124.5 119.2L127.5 124.0Z" fill="rgba(0,155,0,0.68)"/>
<path d="M96.6 130.4L99.6 125.6L102.6 130.4Z" fill="rgba(0,155,0,0.68)"/>
<path d="M98.1 139.0L101.1 134.2L104.1 139.0Z" fill="rgba(0,155,0,0.68)"/>
<path d="M109.6 136.6L112.6 131.8L115.6 136.6Z" fill="rgba(0,155,0,0.68)"/>
<path d="M106.7 124.4L109.7 119.6L112.7 124.4Z" fill="rgba(0,155,0,0.68)"/>
<path d="M105.8 142.1L108.8 137.3L111.8 142.1Z" fill="rgba(0,155,0,0.68)"/>
<path d="M110.0 128.4L113.0 123.6L116.0 128.4Z" fill="rgba(0,155,0,0.68)"/>
<path d="M105.3 137.8L108.3 133.0L111.3 137.8Z" fill="rgba(0,155,0,0.68)"/>
<path d="M119.3 135.9L122.3 131.1L125.3 135.9Z" fill="rgba(0,155,0,0.68)"/>
<path d="M115.6 137.3L118.6 132.5L121.6 137.3Z" fill="rgba(0,155,0,0.68)"/>
<path d="M105.4 136.1L108.4 131.3L111.4 136.1Z" fill="rgba(0,155,0,0.68)"/>
<path d="M115.1 133.5L118.1 128.7L121.1 133.5Z" fill="rgba(0,155,0,0.68)"/>
<path d="M93.4 132.8L96.4 128.0L99.4 132.8Z" fill="rgba(0,155,0,0.68)"/>
<path d="M101.5 135.4L104.5 130.6L107.5 135.4Z" fill="rgba(0,155,0,0.68)"/>
<path d="M108.7 138.5L111.7 133.7L114.7 138.5Z" fill="rgba(0,155,0,0.68)"/>
<circle cx="163.8" cy="85.9" r="2.25" fill="rgba(255,0,0,0.62)" stroke="#111" stroke-width="0.8"/>
<circle cx="144.0" cy="95.3" r="2.25" fill="rgba(255,0,0,0.62)" stroke="#111" stroke-width="0.8"/>
<circle cx="195.1" cy="110.4" r="2.25" fill="rgba(255,0,0,0.62)" stroke="#111" stroke-width="0.8"/>
<circle cx="185.9" cy="88.4" r="2.25" fill="rgba(255,0,0,0.62)" stroke="#111" stroke-width="0.8"/>
<circle cx="189.7" cy="110.7" r="2.25" fill="rgba(255,0,0,0.62)" stroke="#111" stroke-width="0.8"/>
<circle cx="183.9" cy="112.5" r="2.25" fill="rgba(255,0,0,0.62)" stroke="#111" stroke-width="0.8"/>
<circle cx="176.4" cy="105.5" r="2.25" fill="rgba(255,0,0,0.62)" stroke="#111" stroke-width="0.8"/>
<circle cx="170.4" cy="86.8" r="2.25" fill="rgba(255,0,0,0.62)" stroke="#111" stroke-width="0.8"/>
<circle cx="168.4" cy="83.4" r="2.25" fill="rgba(255,0,0,0.62)" stroke="#111" stroke-width="0.8"/>
<circle cx="194.5" cy="101.7" r="2.25" fill="rgba(255,0,0,0.62)" stroke="#111" stroke-width="0.8"/>
<circle cx="192.9" cy="112.2" r="2.25" fill="rgba(255,0,0,0.62)" stroke="#111" stroke-width="0.8"/>
<circle cx="175.9" cy="96.4" r="2.25" fill="rgba(255,0,0,0.62)" stroke="#111" stroke-width="0.8"/>
<circle cx="149.7" cy="91.6" r="2.25" fill="rgba(255,0,0,0.62)" stroke="#111" stroke-width="0.8"/>
<circle cx="156.8" cy="100.3" r="2.25" fill="rgba(255,0,0,0.62)" stroke="#111" stroke-width="0.8"/>
<circle cx="178.0" cy="90.5" r="2.25" fill="rgba(255,0,0,0.62)" stroke="#111" stroke-width="0.8"/>
<circle cx="161.3" cy="108.4" r="2.25" fill="rgba(255,0,0,0.62)" stroke="#111" stroke-width="0.8"/>
<circle cx="200.1" cy="126.1" r="2.25" fill="rgba(255,0,0,0.62)" stroke="#111" stroke-width="0.8"/>
<circle cx="188.4" cy="113.8" r="2.25" fill="rgba(255,0,0,0.62)" stroke="#111" stroke-width="0.8"/>
<circle cx="187.9" cy="124.7" r="2.25" fill="rgba(255,0,0,0.62)" stroke="#111" stroke-width="0.8"/>
<circle cx="184.2" cy="124.9" r="2.25" fill="rgba(255,0,0,0.62)" stroke="#111" stroke-width="0.8"/>
<circle cx="197.7" cy="117.1" r="2.25" fill="rgba(255,0,0,0.62)" stroke="#111" stroke-width="0.8"/>
<circle cx="190.5" cy="123.0" r="2.25" fill="rgba(255,0,0,0.62)" stroke="#111" stroke-width="0.8"/>
<circle cx="177.3" cy="120.2" r="2.25" fill="rgba(255,0,0,0.62)" stroke="#111" stroke-width="0.8"/>
<circle cx="200.6" cy="113.8" r="2.25" fill="rgba(255,0,0,0.62)" stroke="#111" stroke-width="0.8"/>
<circle cx="200.5" cy="123.1" r="2.25" fill="rgba(255,0,0,0.62)" stroke="#111" stroke-width="0.8"/>
<circle cx="200.6" cy="117.8" r="2.25" fill="rgba(255,0,0,0.62)" stroke="#111" stroke-width="0.8"/>
<circle cx="173.6" cy="112.3" r="2.25" fill="rgba(255,0,0,0.62)" stroke="#111" stroke-width="0.8"/>
<circle cx="194.1" cy="114.4" r="2.25" fill="rgba(255,0,0,0.62)" stroke="#111" stroke-width="0.8"/>
<circle cx="206.2" cy="120.9" r="2.25" fill="rgba(255,0,0,0.62)" stroke="#111" stroke-width="0.8"/>
<circle cx="177.6" cy="122.4" r="2.25" fill="rgba(255,0,0,0.62)" stroke="#111" stroke-width="0.8"/>
<circle cx="204.6" cy="119.3" r="2.25" fill="rgba(255,0,0,0.62)" stroke="#111" stroke-width="0.8"/>
<circle cx="194.5" cy="123.4" r="2.25" fill="rgba(255,0,0,0.62)" stroke="#111" stroke-width="0.8"/>
<circle cx="200.6" cy="129.5" r="2.25" fill="rgba(255,0,0,0.62)" stroke="#111" stroke-width="0.8"/>
<circle cx="181.9" cy="112.3" r="2.25" fill="rgba(255,0,0,0.62)" stroke="#111" stroke-width="0.8"/>
<circle cx="179.6" cy="60.9" r="2.25" fill="rgba(255,0,0,0.62)" stroke="#111" stroke-width="0.8"/>
<circle cx="158.5" cy="65.3" r="2.25" fill="rgba(255,0,0,0.62)" stroke="#111" stroke-width="0.8"/>
<circle cx="168.1" cy="68.4" r="2.25" fill="rgba(255,0,0,0.62)" stroke="#111" stroke-width="0.8"/>
<circle cx="170.5" cy="68.4" r="2.25" fill="rgba(255,0,0,0.62)" stroke="#111" stroke-width="0.8"/>
<circle cx="174.3" cy="69.1" r="2.25" fill="rgba(255,0,0,0.62)" stroke="#111" stroke-width="0.8"/>
<circle cx="190.9" cy="68.4" r="2.25" fill="rgba(255,0,0,0.62)" stroke="#111" stroke-width="0.8"/>
<circle cx="168.3" cy="71.9" r="2.25" fill="rgba(255,0,0,0.62)" stroke="#111" stroke-width="0.8"/>
<circle cx="178.9" cy="72.2" r="2.25" fill="rgba(255,0,0,0.62)" stroke="#111" stroke-width="0.8"/>
<circle cx="183.9" cy="70.9" r="2.25" fill="rgba(255,0,0,0.62)" stroke="#111" stroke-width="0.8"/>
<circle cx="191.9" cy="72.6" r="2.25" fill="rgba(255,0,0,0.62)" stroke="#111" stroke-width="0.8"/>
<circle cx="201.5" cy="73.6" r="2.25" fill="rgba(255,0,0,0.62)" stroke="#111" stroke-width="0.8"/>
<circle cx="159.9" cy="73.6" r="2.25" fill="rgba(255,0,0,0.62)" stroke="#111" stroke-width="0.8"/>
<circle cx="152.1" cy="77.6" r="2.25" fill="rgba(255,0,0,0.62)" stroke="#111" stroke-width="0.8"/>
<circle cx="173.3" cy="78.3" r="2.25" fill="rgba(255,0,0,0.62)" stroke="#111" stroke-width="0.8"/>
<circle cx="179.9" cy="77.1" r="2.25" fill="rgba(255,0,0,0.62)" stroke="#111" stroke-width="0.8"/>
<circle cx="184.6" cy="75.5" r="2.25" fill="rgba(255,0,0,0.62)" stroke="#111" stroke-width="0.8"/>
<circle cx="185.7" cy="79.0" r="2.25" fill="rgba(255,0,0,0.62)" stroke="#111" stroke-width="0.8"/>
<circle cx="221.9" cy="82.1" r="2.25" fill="rgba(255,0,0,0.62)" stroke="#111" stroke-width="0.8"/>
<circle cx="207.8" cy="81.5" r="2.25" fill="rgba(255,0,0,0.62)" stroke="#111" stroke-width="0.8"/>
<circle cx="204.3" cy="83.2" r="2.25" fill="rgba(255,0,0,0.62)" stroke="#111" stroke-width="0.8"/>
<circle cx="188.1" cy="82.2" r="2.25" fill="rgba(255,0,0,0.62)" stroke="#111" stroke-width="0.8"/>
<circle cx="183.1" cy="83.2" r="2.25" fill="rgba(255,0,0,0.62)" stroke="#111" stroke-width="0.8"/>
<circle cx="176.8" cy="84.3" r="2.25" fill="rgba(255,0,0,0.62)" stroke="#111" stroke-width="0.8"/>
<circle cx="164.1" cy="80.4" r="2.25" fill="rgba(255,0,0,0.62)" stroke="#111" stroke-width="0.8"/>
<circle cx="166.9" cy="83.9" r="2.25" fill="rgba(255,0,0,0.62)" stroke="#111" stroke-width="0.8"/>
<circle cx="162.0" cy="84.6" r="2.25" fill="rgba(255,0,0,0.62)" stroke="#111" stroke-width="0.8"/>
<circle cx="154.2" cy="84.6" r="2.25" fill="rgba(255,0,0,0.62)" stroke="#111" stroke-width="0.8"/>
<circle cx="156.3" cy="86.0" r="2.25" fill="rgba(255,0,0,0.62)" stroke="#111" stroke-width="0.8"/>
<circle cx="192.3" cy="86.3" r="2.25" fill="rgba(255,0,0,0.62)" stroke="#111" stroke-width="0.8"/>
<circle cx="198.0" cy="87.4" r="2.25" fill="rgba(255,0,0,0.62)" stroke="#111" stroke-width="0.8"/>
<circle cx="206.4" cy="86.0" r="2.25" fill="rgba(255,0,0,0.62)" stroke="#111" stroke-width="0.8"/>
<circle cx="204.7" cy="88.9" r="2.25" fill="rgba(255,0,0,0.62)" stroke="#111" stroke-width="0.8"/>
<circle cx="211.4" cy="90.0" r="2.25" fill="rgba(255,0,0,0.62)" stroke="#111" stroke-width="0.8"/>
<circle cx="186.7" cy="87.7" r="2.25" fill="rgba(255,0,0,0.62)" stroke="#111" stroke-width="0.8"/>
<circle cx="171.2" cy="86.7" r="2.25" fill="rgba(255,0,0,0.62)" stroke="#111" stroke-width="0.8"/>
<circle cx="165.5" cy="88.1" r="2.25" fill="rgba(255,0,0,0.62)" stroke="#111" stroke-width="0.8"/>
<circle cx="173.3" cy="88.9" r="2.25" fill="rgba(255,0,0,0.62)" stroke="#111" stroke-width="0.8"/>
<circle cx="179.6" cy="89.6" r="2.25" fill="rgba(255,0,0,0.62)" stroke="#111" stroke-width="0.8"/>
<circle cx="236.4" cy="83.1" r="2.25" fill="rgba(255,0,0,0.62)" stroke="#111" stroke-width="0.8"/>
<circle cx="201.1" cy="91.0" r="2.25" fill="rgba(255,0,0,0.62)" stroke="#111" stroke-width="0.8"/>
<circle cx="203.9" cy="99.0" r="2.25" fill="rgba(255,0,0,0.62)" stroke="#111" stroke-width="0.8"/>
<circle cx="213.0" cy="101.4" r="2.25" fill="rgba(255,0,0,0.62)" stroke="#111" stroke-width="0.8"/>
<circle cx="200.0" cy="106.1" r="2.25" fill="rgba(255,0,0,0.62)" stroke="#111" stroke-width="0.8"/>
<circle cx="204.9" cy="113.9" r="2.25" fill="rgba(255,0,0,0.62)" stroke="#111" stroke-width="0.8"/>
<circle cx="223.7" cy="114.1" r="2.25" fill="rgba(255,0,0,0.62)" stroke="#111" stroke-width="0.8"/>
<circle cx="141.2" cy="77.2" r="2.25" fill="rgba(255,0,0,0.62)" stroke="#111" stroke-width="0.8"/>
<circle cx="149.1" cy="80.5" r="2.25" fill="rgba(255,0,0,0.62)" stroke="#111" stroke-width="0.8"/>
<circle cx="166.3" cy="81.2" r="2.25" fill="rgba(255,0,0,0.62)" stroke="#111" stroke-width="0.8"/>
<circle cx="145.8" cy="86.8" r="2.25" fill="rgba(255,0,0,0.62)" stroke="#111" stroke-width="0.8"/>
<circle cx="138.1" cy="88.2" r="2.25" fill="rgba(255,0,0,0.62)" stroke="#111" stroke-width="0.8"/>
<circle cx="140.9" cy="89.9" r="2.25" fill="rgba(255,0,0,0.62)" stroke="#111" stroke-width="0.8"/>
<circle cx="121.2" cy="90.3" r="2.25" fill="rgba(255,0,0,0.62)" stroke="#111" stroke-width="0.8"/>
<circle cx="132.2" cy="91.0" r="2.25" fill="rgba(255,0,0,0.62)" stroke="#111" stroke-width="0.8"/>
<circle cx="133.9" cy="93.9" r="2.25" fill="rgba(255,0,0,0.62)" stroke="#111" stroke-width="0.8"/>
<circle cx="146.5" cy="91.7" r="2.25" fill="rgba(255,0,0,0.62)" stroke="#111" stroke-width="0.8"/>
<circle cx="145.1" cy="94.6" r="2.25" fill="rgba(255,0,0,0.62)" stroke="#111" stroke-width="0.8"/>
<circle cx="152.2" cy="93.9" r="2.25" fill="rgba(255,0,0,0.62)" stroke="#111" stroke-width="0.8"/>
<circle cx="156.4" cy="93.1" r="2.25" fill="rgba(255,0,0,0.62)" stroke="#111" stroke-width="0.8"/>
<circle cx="162.1" cy="89.6" r="2.25" fill="rgba(255,0,0,0.62)" stroke="#111" stroke-width="0.8"/>
<circle cx="176.2" cy="90.3" r="2.25" fill="rgba(255,0,0,0.62)" stroke="#111" stroke-width="0.8"/>
<circle cx="166.3" cy="92.4" r="2.25" fill="rgba(255,0,0,0.62)" stroke="#111" stroke-width="0.8"/>
<circle cx="171.2" cy="93.9" r="2.25" fill="rgba(255,0,0,0.62)" stroke="#111" stroke-width="0.8"/>
<circle cx="176.2" cy="93.9" r="2.25" fill="rgba(255,0,0,0.62)" stroke="#111" stroke-width="0.8"/>
<circle cx="162.1" cy="94.6" r="2.25" fill="rgba(255,0,0,0.62)" stroke="#111" stroke-width="0.8"/>
<circle cx="168.3" cy="87.4" r="2.25" fill="rgba(255,0,0,0.62)" stroke="#111" stroke-width="0.8"/>
<circle cx="178.9" cy="86.7" r="2.25" fill="rgba(255,0,0,0.62)" stroke="#111" stroke-width="0.8"/>
<circle cx="171.2" cy="91.6" r="2.25" fill="rgba(255,0,0,0.62)" stroke="#111" stroke-width="0.8"/>
<circle cx="181.7" cy="92.3" r="2.25" fill="rgba(255,0,0,0.62)" stroke="#111" stroke-width="0.8"/>
<circle cx="186.7" cy="92.3" r="2.25" fill="rgba(255,0,0,0.62)" stroke="#111" stroke-width="0.8"/>
<circle cx="189.5" cy="91.6" r="2.25" fill="rgba(255,0,0,0.62)" stroke="#111" stroke-width="0.8"/>
<circle cx="151.4" cy="96.6" r="2.25" fill="rgba(255,0,0,0.62)" stroke="#111" stroke-width="0.8"/>
<circle cx="156.3" cy="95.9" r="2.25" fill="rgba(255,0,0,0.62)" stroke="#111" stroke-width="0.8"/>
<circle cx="165.5" cy="96.6" r="2.25" fill="rgba(255,0,0,0.62)" stroke="#111" stroke-width="0.8"/>
<circle cx="174.0" cy="95.2" r="2.25" fill="rgba(255,0,0,0.62)" stroke="#111" stroke-width="0.8"/>
<circle cx="178.2" cy="96.6" r="2.25" fill="rgba(255,0,0,0.62)" stroke="#111" stroke-width="0.8"/>
<circle cx="183.1" cy="95.9" r="2.25" fill="rgba(255,0,0,0.62)" stroke="#111" stroke-width="0.8"/>
<circle cx="188.1" cy="95.9" r="2.25" fill="rgba(255,0,0,0.62)" stroke="#111" stroke-width="0.8"/>
<circle cx="193.0" cy="97.3" r="2.25" fill="rgba(255,0,0,0.62)" stroke="#111" stroke-width="0.8"/>
<circle cx="151.4" cy="100.8" r="2.25" fill="rgba(255,0,0,0.62)" stroke="#111" stroke-width="0.8"/>
<circle cx="155.6" cy="101.5" r="2.25" fill="rgba(255,0,0,0.62)" stroke="#111" stroke-width="0.8"/>
<circle cx="159.9" cy="100.8" r="2.25" fill="rgba(255,0,0,0.62)" stroke="#111" stroke-width="0.8"/>
<circle cx="164.1" cy="100.1" r="2.25" fill="rgba(255,0,0,0.62)" stroke="#111" stroke-width="0.8"/>
<circle cx="171.2" cy="100.8" r="2.25" fill="rgba(255,0,0,0.62)" stroke="#111" stroke-width="0.8"/>
<circle cx="175.4" cy="102.2" r="2.25" fill="rgba(255,0,0,0.62)" stroke="#111" stroke-width="0.8"/>
<circle cx="181.0" cy="102.2" r="2.25" fill="rgba(255,0,0,0.62)" stroke="#111" stroke-width="0.8"/>
<circle cx="186.0" cy="99.4" r="2.25" fill="rgba(255,0,0,0.62)" stroke="#111" stroke-width="0.8"/>
<circle cx="191.6" cy="100.1" r="2.25" fill="rgba(255,0,0,0.62)" stroke="#111" stroke-width="0.8"/>
<circle cx="193.7" cy="99.4" r="2.25" fill="rgba(255,0,0,0.62)" stroke="#111" stroke-width="0.8"/>
<circle cx="150.7" cy="106.5" r="2.25" fill="rgba(255,0,0,0.62)" stroke="#111" stroke-width="0.8"/>
<circle cx="154.2" cy="107.2" r="2.25" fill="rgba(255,0,0,0.62)" stroke="#111" stroke-width="0.8"/>
<circle cx="159.2" cy="105.7" r="2.25" fill="rgba(255,0,0,0.62)" stroke="#111" stroke-width="0.8"/>
<circle cx="163.4" cy="106.5" r="2.25" fill="rgba(255,0,0,0.62)" stroke="#111" stroke-width="0.8"/>
<circle cx="168.3" cy="107.9" r="2.25" fill="rgba(255,0,0,0.62)" stroke="#111" stroke-width="0.8"/>
<circle cx="173.3" cy="104.3" r="2.25" fill="rgba(255,0,0,0.62)" stroke="#111" stroke-width="0.8"/>
<circle cx="185.3" cy="105.7" r="2.25" fill="rgba(255,0,0,0.62)" stroke="#111" stroke-width="0.8"/>
<circle cx="191.6" cy="106.5" r="2.25" fill="rgba(255,0,0,0.62)" stroke="#111" stroke-width="0.8"/>
<circle cx="156.3" cy="112.8" r="2.25" fill="rgba(255,0,0,0.62)" stroke="#111" stroke-width="0.8"/>
<circle cx="164.1" cy="110.7" r="2.25" fill="rgba(255,0,0,0.62)" stroke="#111" stroke-width="0.8"/>
<circle cx="177.5" cy="110.7" r="2.25" fill="rgba(255,0,0,0.62)" stroke="#111" stroke-width="0.8"/>
<circle cx="179.6" cy="113.5" r="2.25" fill="rgba(255,0,0,0.62)" stroke="#111" stroke-width="0.8"/>
<circle cx="186.0" cy="112.8" r="2.25" fill="rgba(255,0,0,0.62)" stroke="#111" stroke-width="0.8"/>
<circle cx="189.5" cy="112.1" r="2.25" fill="rgba(255,0,0,0.62)" stroke="#111" stroke-width="0.8"/>
<circle cx="193.7" cy="112.8" r="2.25" fill="rgba(255,0,0,0.62)" stroke="#111" stroke-width="0.8"/>
<circle cx="217.0" cy="118.2" r="2.25" fill="rgba(255,0,0,0.62)" stroke="#111" stroke-width="0.8"/>
<circle cx="202.9" cy="120.6" r="2.25" fill="rgba(255,0,0,0.62)" stroke="#111" stroke-width="0.8"/>
<circle cx="158.5" cy="116.3" r="2.25" fill="rgba(255,0,0,0.62)" stroke="#111" stroke-width="0.8"/>
<circle cx="164.1" cy="116.3" r="2.25" fill="rgba(255,0,0,0.62)" stroke="#111" stroke-width="0.8"/>
<circle cx="168.3" cy="114.9" r="2.25" fill="rgba(255,0,0,0.62)" stroke="#111" stroke-width="0.8"/>
<circle cx="174.7" cy="117.7" r="2.25" fill="rgba(255,0,0,0.62)" stroke="#111" stroke-width="0.8"/>
<circle cx="178.9" cy="115.6" r="2.25" fill="rgba(255,0,0,0.62)" stroke="#111" stroke-width="0.8"/>
<circle cx="190.2" cy="116.3" r="2.25" fill="rgba(255,0,0,0.62)" stroke="#111" stroke-width="0.8"/>
<circle cx="195.1" cy="117.7" r="2.25" fill="rgba(255,0,0,0.62)" stroke="#111" stroke-width="0.8"/>
<circle cx="158.7" cy="96.1" r="2.25" fill="rgba(255,0,0,0.62)" stroke="#111" stroke-width="0.8"/>
<circle cx="119.6" cy="99.8" r="2.25" fill="rgba(255,0,0,0.62)" stroke="#111" stroke-width="0.8"/>
<circle cx="119.0" cy="106.1" r="2.25" fill="rgba(255,0,0,0.62)" stroke="#111" stroke-width="0.8"/>
<circle cx="134.4" cy="99.5" r="2.25" fill="rgba(255,0,0,0.62)" stroke="#111" stroke-width="0.8"/>
<circle cx="137.8" cy="97.4" r="2.25" fill="rgba(255,0,0,0.62)" stroke="#111" stroke-width="0.8"/>
<circle cx="141.8" cy="99.2" r="2.25" fill="rgba(255,0,0,0.62)" stroke="#111" stroke-width="0.8"/>
<circle cx="140.7" cy="102.1" r="2.25" fill="rgba(255,0,0,0.62)" stroke="#111" stroke-width="0.8"/>
<circle cx="129.1" cy="106.3" r="2.25" fill="rgba(255,0,0,0.62)" stroke="#111" stroke-width="0.8"/>
<circle cx="137.6" cy="105.6" r="2.25" fill="rgba(255,0,0,0.62)" stroke="#111" stroke-width="0.8"/>
<circle cx="142.3" cy="108.8" r="2.25" fill="rgba(255,0,0,0.62)" stroke="#111" stroke-width="0.8"/>
<circle cx="145.5" cy="107.7" r="2.25" fill="rgba(255,0,0,0.62)" stroke="#111" stroke-width="0.8"/>
<circle cx="118.5" cy="110.1" r="2.25" fill="rgba(255,0,0,0.62)" stroke="#111" stroke-width="0.8"/>
<circle cx="152.9" cy="114.2" r="2.25" fill="rgba(255,0,0,0.62)" stroke="#111" stroke-width="0.8"/>
<circle cx="188.7" cy="119.0" r="2.25" fill="rgba(255,0,0,0.62)" stroke="#111" stroke-width="0.8"/>
<circle cx="172.8" cy="111.1" r="2.25" fill="rgba(255,0,0,0.62)" stroke="#111" stroke-width="0.8"/>
<circle cx="160.1" cy="113.2" r="2.25" fill="rgba(255,0,0,0.62)" stroke="#111" stroke-width="0.8"/>
<circle cx="173.3" cy="122.7" r="2.25" fill="rgba(255,0,0,0.62)" stroke="#111" stroke-width="0.8"/>
<circle cx="179.2" cy="126.9" r="2.25" fill="rgba(255,0,0,0.62)" stroke="#111" stroke-width="0.8"/>
<circle cx="188.7" cy="125.9" r="2.25" fill="rgba(255,0,0,0.62)" stroke="#111" stroke-width="0.8"/>
<circle cx="197.2" cy="124.3" r="2.25" fill="rgba(255,0,0,0.62)" stroke="#111" stroke-width="0.8"/>
<circle cx="195.0" cy="129.6" r="2.25" fill="rgba(255,0,0,0.62)" stroke="#111" stroke-width="0.8"/>
<circle cx="187.6" cy="129.0" r="2.25" fill="rgba(255,0,0,0.62)" stroke="#111" stroke-width="0.8"/>
<circle cx="175.5" cy="130.1" r="2.25" fill="rgba(255,0,0,0.62)" stroke="#111" stroke-width="0.8"/>
<circle cx="182.3" cy="133.8" r="2.25" fill="rgba(255,0,0,0.62)" stroke="#111" stroke-width="0.8"/>
<circle cx="161.2" cy="134.3" r="2.25" fill="rgba(255,0,0,0.62)" stroke="#111" stroke-width="0.8"/>
<circle cx="187.1" cy="158.3" r="2.25" fill="rgba(255,0,0,0.62)" stroke="#111" stroke-width="0.8"/>
<circle cx="162.8" cy="139.8" r="2.25" fill="rgba(255,0,0,0.62)" stroke="#111" stroke-width="0.8"/>
<circle cx="170.2" cy="143.5" r="2.25" fill="rgba(255,0,0,0.62)" stroke="#111" stroke-width="0.8"/>
<circle cx="104.2" cy="146.6" r="2.25" fill="rgba(255,0,0,0.62)" stroke="#111" stroke-width="0.8"/>
<circle cx="108.5" cy="146.6" r="2.25" fill="rgba(255,0,0,0.62)" stroke="#111" stroke-width="0.8"/>
<circle cx="114.8" cy="150.8" r="2.25" fill="rgba(255,0,0,0.62)" stroke="#111" stroke-width="0.8"/>
<circle cx="115.3" cy="157.7" r="2.25" fill="rgba(255,0,0,0.62)" stroke="#111" stroke-width="0.8"/>
<circle cx="120.6" cy="156.6" r="2.25" fill="rgba(255,0,0,0.62)" stroke="#111" stroke-width="0.8"/>
<circle cx="125.9" cy="154.0" r="2.25" fill="rgba(255,0,0,0.62)" stroke="#111" stroke-width="0.8"/>
<circle cx="134.4" cy="150.3" r="2.25" fill="rgba(255,0,0,0.62)" stroke="#111" stroke-width="0.8"/>
<circle cx="138.1" cy="154.5" r="2.25" fill="rgba(255,0,0,0.62)" stroke="#111" stroke-width="0.8"/>
<circle cx="146.6" cy="147.6" r="2.25" fill="rgba(255,0,0,0.62)" stroke="#111" stroke-width="0.8"/>
<circle cx="150.8" cy="147.6" r="2.25" fill="rgba(255,0,0,0.62)" stroke="#111" stroke-width="0.8"/>
<circle cx="148.7" cy="151.3" r="2.25" fill="rgba(255,0,0,0.62)" stroke="#111" stroke-width="0.8"/>
<circle cx="144.4" cy="160.3" r="2.25" fill="rgba(255,0,0,0.62)" stroke="#111" stroke-width="0.8"/>
<circle cx="134.9" cy="161.4" r="2.25" fill="rgba(255,0,0,0.62)" stroke="#111" stroke-width="0.8"/>
<circle cx="143.4" cy="146.1" r="2.25" fill="rgba(255,0,0,0.62)" stroke="#111" stroke-width="0.8"/>
<circle cx="131.7" cy="141.8" r="2.25" fill="rgba(255,0,0,0.62)" stroke="#111" stroke-width="0.8"/>
<circle cx="115.9" cy="160.9" r="2.25" fill="rgba(255,0,0,0.62)" stroke="#111" stroke-width="0.8"/>
<circle cx="132.3" cy="165.9" r="2.25" fill="rgba(255,0,0,0.62)" stroke="#111" stroke-width="0.8"/>
<circle cx="142.3" cy="163.8" r="2.25" fill="rgba(255,0,0,0.62)" stroke="#111" stroke-width="0.8"/>
<circle cx="146.0" cy="163.3" r="2.25" fill="rgba(255,0,0,0.62)" stroke="#111" stroke-width="0.8"/>
<circle cx="141.8" cy="171.8" r="2.25" fill="rgba(255,0,0,0.62)" stroke="#111" stroke-width="0.8"/>
<circle cx="148.1" cy="171.2" r="2.25" fill="rgba(255,0,0,0.62)" stroke="#111" stroke-width="0.8"/>
<circle cx="142.9" cy="175.5" r="2.25" fill="rgba(255,0,0,0.62)" stroke="#111" stroke-width="0.8"/>
<circle cx="105.7" cy="121.2" r="2.25" fill="rgba(255,0,0,0.62)" stroke="#111" stroke-width="0.8"/>
<circle cx="145.5" cy="132.9" r="2.25" fill="rgba(0,165,0,0.66)" stroke="#111" stroke-width="0.8"/>
<circle cx="154.0" cy="135.4" r="2.25" fill="rgba(0,165,0,0.66)" stroke="#111" stroke-width="0.8"/>
<circle cx="146.9" cy="119.8" r="2.25" fill="rgba(0,165,0,0.66)" stroke="#111" stroke-width="0.8"/>
<circle cx="184.4" cy="130.0" r="2.25" fill="rgba(0,165,0,0.66)" stroke="#111" stroke-width="0.8"/>
<circle cx="171.3" cy="146.5" r="2.25" fill="rgba(0,165,0,0.66)" stroke="#111" stroke-width="0.8"/>
<circle cx="164.0" cy="141.1" r="2.25" fill="rgba(0,165,0,0.66)" stroke="#111" stroke-width="0.8"/>
<circle cx="179.3" cy="134.8" r="2.25" fill="rgba(0,165,0,0.66)" stroke="#111" stroke-width="0.8"/>
<circle cx="186.3" cy="129.9" r="2.25" fill="rgba(0,165,0,0.66)" stroke="#111" stroke-width="0.8"/>
<circle cx="176.7" cy="146.9" r="2.25" fill="rgba(0,165,0,0.66)" stroke="#111" stroke-width="0.8"/>
<circle cx="176.4" cy="148.7" r="2.25" fill="rgba(0,165,0,0.66)" stroke="#111" stroke-width="0.8"/>
<circle cx="155.7" cy="143.6" r="2.25" fill="rgba(0,165,0,0.66)" stroke="#111" stroke-width="0.8"/>
<circle cx="158.9" cy="149.3" r="2.25" fill="rgba(0,165,0,0.66)" stroke="#111" stroke-width="0.8"/>
<circle cx="138.8" cy="119.1" r="2.25" fill="rgba(0,165,0,0.66)" stroke="#111" stroke-width="0.8"/>
<circle cx="163.0" cy="126.2" r="2.25" fill="rgba(0,165,0,0.66)" stroke="#111" stroke-width="0.8"/>
<circle cx="168.0" cy="148.0" r="2.25" fill="rgba(0,165,0,0.66)" stroke="#111" stroke-width="0.8"/>
<circle cx="174.3" cy="149.0" r="2.25" fill="rgba(0,165,0,0.66)" stroke="#111" stroke-width="0.8"/>
<circle cx="185.9" cy="150.5" r="2.25" fill="rgba(0,165,0,0.66)" stroke="#111" stroke-width="0.8"/>
<circle cx="188.8" cy="133.9" r="2.25" fill="rgba(0,165,0,0.66)" stroke="#111" stroke-width="0.8"/>
<circle cx="184.1" cy="134.1" r="2.25" fill="rgba(0,165,0,0.66)" stroke="#111" stroke-width="0.8"/>
<circle cx="148.5" cy="112.7" r="2.25" fill="rgba(0,165,0,0.66)" stroke="#111" stroke-width="0.8"/>
<circle cx="156.7" cy="116.3" r="2.25" fill="rgba(0,165,0,0.66)" stroke="#111" stroke-width="0.8"/>
<circle cx="149.1" cy="142.3" r="2.25" fill="rgba(0,165,0,0.66)" stroke="#111" stroke-width="0.8"/>
<circle cx="162.9" cy="151.9" r="2.25" fill="rgba(0,165,0,0.66)" stroke="#111" stroke-width="0.8"/>
<circle cx="142.8" cy="127.1" r="2.25" fill="rgba(0,165,0,0.66)" stroke="#111" stroke-width="0.8"/>
<circle cx="150.4" cy="150.3" r="2.25" fill="rgba(0,165,0,0.66)" stroke="#111" stroke-width="0.8"/>
<circle cx="159.9" cy="131.8" r="2.25" fill="rgba(0,165,0,0.66)" stroke="#111" stroke-width="0.8"/>
<circle cx="171.9" cy="135.0" r="2.25" fill="rgba(0,165,0,0.66)" stroke="#111" stroke-width="0.8"/>
<circle cx="166.4" cy="136.0" r="2.25" fill="rgba(0,165,0,0.66)" stroke="#111" stroke-width="0.8"/>
<circle cx="158.0" cy="140.3" r="2.25" fill="rgba(0,165,0,0.66)" stroke="#111" stroke-width="0.8"/>
<circle cx="145.4" cy="122.6" r="2.25" fill="rgba(0,165,0,0.66)" stroke="#111" stroke-width="0.8"/>
<circle cx="157.0" cy="134.4" r="2.25" fill="rgba(0,165,0,0.66)" stroke="#111" stroke-width="0.8"/>
<circle cx="170.8" cy="129.6" r="2.25" fill="rgba(0,165,0,0.66)" stroke="#111" stroke-width="0.8"/>
<circle cx="176.0" cy="141.0" r="2.25" fill="rgba(0,165,0,0.66)" stroke="#111" stroke-width="0.8"/>
<circle cx="131.4" cy="112.5" r="2.25" fill="rgba(0,165,0,0.66)" stroke="#111" stroke-width="0.8"/>
<circle cx="146.3" cy="129.2" r="2.25" fill="rgba(0,165,0,0.66)" stroke="#111" stroke-width="0.8"/>
<circle cx="168.5" cy="123.4" r="2.25" fill="rgba(0,165,0,0.66)" stroke="#111" stroke-width="0.8"/>
<circle cx="153.7" cy="123.1" r="2.25" fill="rgba(0,165,0,0.66)" stroke="#111" stroke-width="0.8"/>
<circle cx="149.5" cy="125.8" r="2.25" fill="rgba(0,165,0,0.66)" stroke="#111" stroke-width="0.8"/>
<circle cx="167.0" cy="140.9" r="2.25" fill="rgba(0,165,0,0.66)" stroke="#111" stroke-width="0.8"/>
<circle cx="150.2" cy="119.3" r="2.25" fill="rgba(0,165,0,0.66)" stroke="#111" stroke-width="0.8"/>
<circle cx="150.9" cy="124.0" r="2.25" fill="rgba(0,165,0,0.66)" stroke="#111" stroke-width="0.8"/>
<circle cx="151.9" cy="137.3" r="2.25" fill="rgba(0,165,0,0.66)" stroke="#111" stroke-width="0.8"/>
<circle cx="144.6" cy="115.1" r="2.25" fill="rgba(0,165,0,0.66)" stroke="#111" stroke-width="0.8"/>
<circle cx="182.4" cy="145.2" r="2.25" fill="rgba(0,165,0,0.66)" stroke="#111" stroke-width="0.8"/>
<circle cx="141.9" cy="121.7" r="2.25" fill="rgba(0,165,0,0.66)" stroke="#111" stroke-width="0.8"/>
<circle cx="182.5" cy="137.0" r="2.25" fill="rgba(0,165,0,0.66)" stroke="#111" stroke-width="0.8"/>
<circle cx="138.4" cy="122.3" r="2.25" fill="rgba(0,165,0,0.66)" stroke="#111" stroke-width="0.8"/>
<circle cx="152.5" cy="127.5" r="2.25" fill="rgba(0,165,0,0.66)" stroke="#111" stroke-width="0.8"/>
<circle cx="157.3" cy="127.2" r="2.25" fill="rgba(0,165,0,0.66)" stroke="#111" stroke-width="0.8"/>
<circle cx="178.5" cy="145.1" r="2.25" fill="rgba(0,165,0,0.66)" stroke="#111" stroke-width="0.8"/>
<circle cx="173.1" cy="131.8" r="2.25" fill="rgba(0,165,0,0.66)" stroke="#111" stroke-width="0.8"/>
<circle cx="144.8" cy="112.9" r="2.25" fill="rgba(0,165,0,0.66)" stroke="#111" stroke-width="0.8"/>
<circle cx="188.7" cy="139.1" r="2.25" fill="rgba(0,165,0,0.66)" stroke="#111" stroke-width="0.8"/>
<circle cx="190.1" cy="147.7" r="2.25" fill="rgba(0,165,0,0.66)" stroke="#111" stroke-width="0.8"/>
<circle cx="156.9" cy="149.4" r="2.25" fill="rgba(0,165,0,0.66)" stroke="#111" stroke-width="0.8"/>
<circle cx="146.4" cy="146.2" r="2.25" fill="rgba(0,165,0,0.66)" stroke="#111" stroke-width="0.8"/>
<circle cx="161.0" cy="142.9" r="2.25" fill="rgba(0,165,0,0.66)" stroke="#111" stroke-width="0.8"/>
<circle cx="152.9" cy="118.3" r="2.25" fill="rgba(0,165,0,0.66)" stroke="#111" stroke-width="0.8"/>
<circle cx="164.8" cy="144.3" r="2.25" fill="rgba(0,165,0,0.66)" stroke="#111" stroke-width="0.8"/>
<circle cx="141.1" cy="143.3" r="2.25" fill="rgba(0,165,0,0.66)" stroke="#111" stroke-width="0.8"/>
<circle cx="189.9" cy="143.9" r="2.25" fill="rgba(0,165,0,0.66)" stroke="#111" stroke-width="0.8"/>
<circle cx="133.2" cy="121.4" r="2.25" fill="rgba(0,165,0,0.66)" stroke="#111" stroke-width="0.8"/>
<circle cx="147.5" cy="132.1" r="2.25" fill="rgba(0,165,0,0.66)" stroke="#111" stroke-width="0.8"/>
<circle cx="157.5" cy="129.9" r="2.25" fill="rgba(0,165,0,0.66)" stroke="#111" stroke-width="0.8"/>
<circle cx="133.6" cy="115.3" r="2.25" fill="rgba(0,165,0,0.66)" stroke="#111" stroke-width="0.8"/>
<circle cx="138.1" cy="112.9" r="2.25" fill="rgba(0,165,0,0.66)" stroke="#111" stroke-width="0.8"/>
<circle cx="135.6" cy="131.1" r="2.25" fill="rgba(0,165,0,0.66)" stroke="#111" stroke-width="0.8"/>
<circle cx="142.4" cy="123.8" r="2.25" fill="rgba(0,165,0,0.66)" stroke="#111" stroke-width="0.8"/>
<circle cx="138.0" cy="133.3" r="2.25" fill="rgba(0,165,0,0.66)" stroke="#111" stroke-width="0.8"/>
<circle cx="135.2" cy="117.5" r="2.25" fill="rgba(0,165,0,0.66)" stroke="#111" stroke-width="0.8"/>
<circle cx="162.2" cy="139.5" r="2.25" fill="rgba(0,165,0,0.66)" stroke="#111" stroke-width="0.8"/>
<circle cx="160.0" cy="120.3" r="2.25" fill="rgba(0,165,0,0.66)" stroke="#111" stroke-width="0.8"/>
<circle cx="164.8" cy="139.2" r="2.25" fill="rgba(0,165,0,0.66)" stroke="#111" stroke-width="0.8"/>
<circle cx="134.7" cy="127.8" r="2.25" fill="rgba(0,165,0,0.66)" stroke="#111" stroke-width="0.8"/>
<circle cx="157.7" cy="146.9" r="2.25" fill="rgba(0,165,0,0.66)" stroke="#111" stroke-width="0.8"/>
<circle cx="138.0" cy="144.2" r="2.25" fill="rgba(0,165,0,0.66)" stroke="#111" stroke-width="0.8"/>
<circle cx="173.0" cy="147.3" r="2.25" fill="rgba(0,165,0,0.66)" stroke="#111" stroke-width="0.8"/>
<circle cx="177.7" cy="133.7" r="2.25" fill="rgba(0,165,0,0.66)" stroke="#111" stroke-width="0.8"/>
<circle cx="136.7" cy="134.7" r="2.25" fill="rgba(0,165,0,0.66)" stroke="#111" stroke-width="0.8"/>
<circle cx="130.3" cy="116.0" r="2.25" fill="rgba(0,165,0,0.66)" stroke="#111" stroke-width="0.8"/>
<circle cx="136.0" cy="114.2" r="2.25" fill="rgba(0,165,0,0.66)" stroke="#111" stroke-width="0.8"/>
<circle cx="173.8" cy="145.1" r="2.25" fill="rgba(0,165,0,0.66)" stroke="#111" stroke-width="0.8"/>
<circle cx="179.9" cy="131.5" r="2.25" fill="rgba(0,165,0,0.66)" stroke="#111" stroke-width="0.8"/>
<circle cx="178.7" cy="149.3" r="2.25" fill="rgba(0,165,0,0.66)" stroke="#111" stroke-width="0.8"/>
<circle cx="134.0" cy="123.6" r="2.25" fill="rgba(0,165,0,0.66)" stroke="#111" stroke-width="0.8"/>
<circle cx="166.7" cy="144.8" r="2.25" fill="rgba(0,165,0,0.66)" stroke="#111" stroke-width="0.8"/>
<circle cx="145.7" cy="117.6" r="2.25" fill="rgba(0,165,0,0.66)" stroke="#111" stroke-width="0.8"/>
<circle cx="146.2" cy="135.9" r="2.25" fill="rgba(0,165,0,0.66)" stroke="#111" stroke-width="0.8"/>
<circle cx="161.4" cy="137.0" r="2.25" fill="rgba(0,165,0,0.66)" stroke="#111" stroke-width="0.8"/>
<circle cx="136.2" cy="141.4" r="2.25" fill="rgba(0,165,0,0.66)" stroke="#111" stroke-width="0.8"/>
<circle cx="142.9" cy="134.6" r="2.25" fill="rgba(0,165,0,0.66)" stroke="#111" stroke-width="0.8"/>
<circle cx="149.2" cy="139.6" r="2.25" fill="rgba(0,165,0,0.66)" stroke="#111" stroke-width="0.8"/>
<circle cx="161.2" cy="126.1" r="2.25" fill="rgba(0,165,0,0.66)" stroke="#111" stroke-width="0.8"/>
<circle cx="141.2" cy="125.1" r="2.25" fill="rgba(0,165,0,0.66)" stroke="#111" stroke-width="0.8"/>
<circle cx="150.9" cy="142.5" r="2.25" fill="rgba(0,165,0,0.66)" stroke="#111" stroke-width="0.8"/>
<circle cx="161.2" cy="135.2" r="2.25" fill="rgba(0,165,0,0.66)" stroke="#111" stroke-width="0.8"/>
<circle cx="160.4" cy="145.1" r="2.25" fill="rgba(0,165,0,0.66)" stroke="#111" stroke-width="0.8"/>
<circle cx="145.3" cy="140.1" r="2.25" fill="rgba(0,165,0,0.66)" stroke="#111" stroke-width="0.8"/>
<circle cx="142.2" cy="139.6" r="2.25" fill="rgba(0,165,0,0.66)" stroke="#111" stroke-width="0.8"/>
<circle cx="185.8" cy="147.8" r="2.25" fill="rgba(0,165,0,0.66)" stroke="#111" stroke-width="0.8"/>
<circle cx="150.4" cy="127.8" r="2.25" fill="rgba(0,165,0,0.66)" stroke="#111" stroke-width="0.8"/>
<circle cx="167.7" cy="138.4" r="2.25" fill="rgba(0,165,0,0.66)" stroke="#111" stroke-width="0.8"/>
<circle cx="130.4" cy="124.1" r="2.25" fill="rgba(0,165,0,0.66)" stroke="#111" stroke-width="0.8"/>
<circle cx="147.9" cy="137.9" r="2.25" fill="rgba(0,165,0,0.66)" stroke="#111" stroke-width="0.8"/>
<circle cx="180.2" cy="141.8" r="2.25" fill="rgba(0,165,0,0.66)" stroke="#111" stroke-width="0.8"/>
<circle cx="147.3" cy="141.7" r="2.25" fill="rgba(0,165,0,0.66)" stroke="#111" stroke-width="0.8"/>
<circle cx="192.5" cy="138.3" r="2.25" fill="rgba(0,165,0,0.66)" stroke="#111" stroke-width="0.8"/>
<circle cx="176.7" cy="138.5" r="2.25" fill="rgba(0,165,0,0.66)" stroke="#111" stroke-width="0.8"/>
<circle cx="141.6" cy="147.4" r="2.25" fill="rgba(0,165,0,0.66)" stroke="#111" stroke-width="0.8"/>
<circle cx="151.5" cy="140.3" r="2.25" fill="rgba(0,165,0,0.66)" stroke="#111" stroke-width="0.8"/>
<circle cx="168.8" cy="133.3" r="2.25" fill="rgba(0,165,0,0.66)" stroke="#111" stroke-width="0.8"/>
<circle cx="150.3" cy="117.4" r="2.25" fill="rgba(0,165,0,0.66)" stroke="#111" stroke-width="0.8"/>
<circle cx="134.5" cy="140.1" r="2.25" fill="rgba(0,165,0,0.66)" stroke="#111" stroke-width="0.8"/>
<circle cx="147.3" cy="126.1" r="2.25" fill="rgba(0,165,0,0.66)" stroke="#111" stroke-width="0.8"/>
<circle cx="162.8" cy="120.4" r="2.25" fill="rgba(0,165,0,0.66)" stroke="#111" stroke-width="0.8"/>
<circle cx="152.9" cy="145.6" r="2.25" fill="rgba(0,165,0,0.66)" stroke="#111" stroke-width="0.8"/>
<circle cx="142.0" cy="117.9" r="2.25" fill="rgba(0,165,0,0.66)" stroke="#111" stroke-width="0.8"/>
<circle cx="183.0" cy="141.4" r="2.25" fill="rgba(0,165,0,0.66)" stroke="#111" stroke-width="0.8"/>
<circle cx="155.9" cy="118.1" r="2.25" fill="rgba(0,165,0,0.66)" stroke="#111" stroke-width="0.8"/>
<circle cx="164.3" cy="133.9" r="2.25" fill="rgba(0,165,0,0.66)" stroke="#111" stroke-width="0.8"/>
<circle cx="182.2" cy="147.4" r="2.25" fill="rgba(0,165,0,0.66)" stroke="#111" stroke-width="0.8"/>
<circle cx="171.2" cy="151.0" r="2.25" fill="rgba(0,165,0,0.66)" stroke="#111" stroke-width="0.8"/>
<circle cx="169.1" cy="140.5" r="2.25" fill="rgba(0,165,0,0.66)" stroke="#111" stroke-width="0.8"/>
<circle cx="164.0" cy="129.3" r="2.25" fill="rgba(0,165,0,0.66)" stroke="#111" stroke-width="0.8"/>
<circle cx="142.6" cy="132.2" r="2.25" fill="rgba(0,165,0,0.66)" stroke="#111" stroke-width="0.8"/>
<circle cx="132.4" cy="131.0" r="2.25" fill="rgba(0,165,0,0.66)" stroke="#111" stroke-width="0.8"/>
<circle cx="166.8" cy="150.3" r="2.25" fill="rgba(0,165,0,0.66)" stroke="#111" stroke-width="0.8"/>
<circle cx="165.0" cy="149.1" r="2.25" fill="rgba(0,165,0,0.66)" stroke="#111" stroke-width="0.8"/>
<circle cx="151.0" cy="146.6" r="2.25" fill="rgba(0,165,0,0.66)" stroke="#111" stroke-width="0.8"/>
<circle cx="185.8" cy="135.2" r="2.25" fill="rgba(0,165,0,0.66)" stroke="#111" stroke-width="0.8"/>
<circle cx="190.3" cy="140.1" r="2.25" fill="rgba(0,165,0,0.66)" stroke="#111" stroke-width="0.8"/>
<circle cx="140.5" cy="130.9" r="2.25" fill="rgba(0,165,0,0.66)" stroke="#111" stroke-width="0.8"/>
<circle cx="175.5" cy="132.6" r="2.25" fill="rgba(0,165,0,0.66)" stroke="#111" stroke-width="0.8"/>
<circle cx="157.4" cy="137.3" r="2.25" fill="rgba(0,165,0,0.66)" stroke="#111" stroke-width="0.8"/>
<circle cx="149.8" cy="129.5" r="2.25" fill="rgba(0,165,0,0.66)" stroke="#111" stroke-width="0.8"/>
<circle cx="154.1" cy="132.2" r="2.25" fill="rgba(0,165,0,0.66)" stroke="#111" stroke-width="0.8"/>
<circle cx="130.2" cy="118.8" r="2.25" fill="rgba(0,165,0,0.66)" stroke="#111" stroke-width="0.8"/>
<circle cx="159.9" cy="118.2" r="2.25" fill="rgba(0,165,0,0.66)" stroke="#111" stroke-width="0.8"/>
<circle cx="131.8" cy="114.6" r="2.25" fill="rgba(0,165,0,0.66)" stroke="#111" stroke-width="0.8"/>
<circle cx="133.9" cy="110.9" r="2.25" fill="rgba(0,165,0,0.66)" stroke="#111" stroke-width="0.8"/>
<circle cx="150.0" cy="111.4" r="2.25" fill="rgba(0,165,0,0.66)" stroke="#111" stroke-width="0.8"/>
<circle cx="154.2" cy="115.6" r="2.25" fill="rgba(0,165,0,0.66)" stroke="#111" stroke-width="0.8"/>
<circle cx="159.2" cy="119.1" r="2.25" fill="rgba(0,165,0,0.66)" stroke="#111" stroke-width="0.8"/>
<circle cx="162.7" cy="117.7" r="2.25" fill="rgba(0,165,0,0.66)" stroke="#111" stroke-width="0.8"/>
<circle cx="169.0" cy="119.1" r="2.25" fill="rgba(0,165,0,0.66)" stroke="#111" stroke-width="0.8"/>
<circle cx="173.3" cy="119.8" r="2.25" fill="rgba(0,165,0,0.66)" stroke="#111" stroke-width="0.8"/>
<circle cx="180.3" cy="119.8" r="2.25" fill="rgba(0,165,0,0.66)" stroke="#111" stroke-width="0.8"/>
<circle cx="183.1" cy="110.7" r="2.25" fill="rgba(0,165,0,0.66)" stroke="#111" stroke-width="0.8"/>
<circle cx="183.9" cy="118.4" r="2.25" fill="rgba(0,165,0,0.66)" stroke="#111" stroke-width="0.8"/>
<circle cx="188.8" cy="116.3" r="2.25" fill="rgba(0,165,0,0.66)" stroke="#111" stroke-width="0.8"/>
<circle cx="193.7" cy="120.6" r="2.25" fill="rgba(0,165,0,0.66)" stroke="#111" stroke-width="0.8"/>
<circle cx="152.8" cy="119.8" r="2.25" fill="rgba(0,165,0,0.66)" stroke="#111" stroke-width="0.8"/>
<circle cx="122.2" cy="109.5" r="2.25" fill="rgba(0,165,0,0.66)" stroke="#111" stroke-width="0.8"/>
<circle cx="131.7" cy="108.2" r="2.25" fill="rgba(0,165,0,0.66)" stroke="#111" stroke-width="0.8"/>
<circle cx="137.0" cy="109.3" r="2.25" fill="rgba(0,165,0,0.66)" stroke="#111" stroke-width="0.8"/>
<circle cx="140.2" cy="111.9" r="2.25" fill="rgba(0,165,0,0.66)" stroke="#111" stroke-width="0.8"/>
<circle cx="146.6" cy="111.4" r="2.25" fill="rgba(0,165,0,0.66)" stroke="#111" stroke-width="0.8"/>
<circle cx="130.7" cy="105.6" r="2.25" fill="rgba(0,165,0,0.66)" stroke="#111" stroke-width="0.8"/>
<circle cx="133.9" cy="111.9" r="2.25" fill="rgba(0,165,0,0.66)" stroke="#111" stroke-width="0.8"/>
<circle cx="128.6" cy="111.9" r="2.25" fill="rgba(0,165,0,0.66)" stroke="#111" stroke-width="0.8"/>
<circle cx="104.2" cy="122.1" r="2.25" fill="rgba(0,165,0,0.66)" stroke="#111" stroke-width="0.8"/>
<circle cx="105.3" cy="127.4" r="2.25" fill="rgba(0,165,0,0.66)" stroke="#111" stroke-width="0.8"/>
<circle cx="114.8" cy="127.4" r="2.25" fill="rgba(0,165,0,0.66)" stroke="#111" stroke-width="0.8"/>
<circle cx="120.1" cy="122.1" r="2.25" fill="rgba(0,165,0,0.66)" stroke="#111" stroke-width="0.8"/>
<circle cx="121.2" cy="117.9" r="2.25" fill="rgba(0,165,0,0.66)" stroke="#111" stroke-width="0.8"/>
<circle cx="120.6" cy="113.6" r="2.25" fill="rgba(0,165,0,0.66)" stroke="#111" stroke-width="0.8"/>
<circle cx="115.3" cy="134.3" r="2.25" fill="rgba(0,165,0,0.66)" stroke="#111" stroke-width="0.8"/>
<circle cx="126.5" cy="125.3" r="2.25" fill="rgba(0,165,0,0.66)" stroke="#111" stroke-width="0.8"/>
<circle cx="125.4" cy="121.6" r="2.25" fill="rgba(0,165,0,0.66)" stroke="#111" stroke-width="0.8"/>
<circle cx="131.7" cy="117.3" r="2.25" fill="rgba(0,165,0,0.66)" stroke="#111" stroke-width="0.8"/>
<circle cx="128.6" cy="129.0" r="2.25" fill="rgba(0,165,0,0.66)" stroke="#111" stroke-width="0.8"/>
<circle cx="130.2" cy="132.2" r="2.25" fill="rgba(0,165,0,0.66)" stroke="#111" stroke-width="0.8"/>
<circle cx="126.5" cy="135.3" r="2.25" fill="rgba(0,165,0,0.66)" stroke="#111" stroke-width="0.8"/>
<circle cx="133.9" cy="121.6" r="2.25" fill="rgba(0,165,0,0.66)" stroke="#111" stroke-width="0.8"/>
<circle cx="136.0" cy="117.9" r="2.25" fill="rgba(0,165,0,0.66)" stroke="#111" stroke-width="0.8"/>
<circle cx="138.6" cy="114.2" r="2.25" fill="rgba(0,165,0,0.66)" stroke="#111" stroke-width="0.8"/>
<circle cx="142.9" cy="115.2" r="2.25" fill="rgba(0,165,0,0.66)" stroke="#111" stroke-width="0.8"/>
<circle cx="149.7" cy="116.3" r="2.25" fill="rgba(0,165,0,0.66)" stroke="#111" stroke-width="0.8"/>
<circle cx="155.0" cy="113.1" r="2.25" fill="rgba(0,165,0,0.66)" stroke="#111" stroke-width="0.8"/>
<circle cx="138.1" cy="121.6" r="2.25" fill="rgba(0,165,0,0.66)" stroke="#111" stroke-width="0.8"/>
<circle cx="142.3" cy="120.5" r="2.25" fill="rgba(0,165,0,0.66)" stroke="#111" stroke-width="0.8"/>
<circle cx="146.6" cy="120.5" r="2.25" fill="rgba(0,165,0,0.66)" stroke="#111" stroke-width="0.8"/>
<circle cx="156.6" cy="122.6" r="2.25" fill="rgba(0,165,0,0.66)" stroke="#111" stroke-width="0.8"/>
<circle cx="133.9" cy="125.8" r="2.25" fill="rgba(0,165,0,0.66)" stroke="#111" stroke-width="0.8"/>
<circle cx="138.1" cy="126.3" r="2.25" fill="rgba(0,165,0,0.66)" stroke="#111" stroke-width="0.8"/>
<circle cx="142.3" cy="126.9" r="2.25" fill="rgba(0,165,0,0.66)" stroke="#111" stroke-width="0.8"/>
<circle cx="146.6" cy="126.9" r="2.25" fill="rgba(0,165,0,0.66)" stroke="#111" stroke-width="0.8"/>
<circle cx="150.8" cy="125.3" r="2.25" fill="rgba(0,165,0,0.66)" stroke="#111" stroke-width="0.8"/>
<circle cx="155.0" cy="127.4" r="2.25" fill="rgba(0,165,0,0.66)" stroke="#111" stroke-width="0.8"/>
<circle cx="158.7" cy="126.9" r="2.25" fill="rgba(0,165,0,0.66)" stroke="#111" stroke-width="0.8"/>
<circle cx="133.9" cy="130.0" r="2.25" fill="rgba(0,165,0,0.66)" stroke="#111" stroke-width="0.8"/>
<circle cx="138.1" cy="130.6" r="2.25" fill="rgba(0,165,0,0.66)" stroke="#111" stroke-width="0.8"/>
<circle cx="142.3" cy="131.1" r="2.25" fill="rgba(0,165,0,0.66)" stroke="#111" stroke-width="0.8"/>
<circle cx="146.6" cy="130.6" r="2.25" fill="rgba(0,165,0,0.66)" stroke="#111" stroke-width="0.8"/>
<circle cx="150.8" cy="129.5" r="2.25" fill="rgba(0,165,0,0.66)" stroke="#111" stroke-width="0.8"/>
<circle cx="154.5" cy="131.6" r="2.25" fill="rgba(0,165,0,0.66)" stroke="#111" stroke-width="0.8"/>
<circle cx="158.2" cy="131.1" r="2.25" fill="rgba(0,165,0,0.66)" stroke="#111" stroke-width="0.8"/>
<circle cx="132.8" cy="134.8" r="2.25" fill="rgba(0,165,0,0.66)" stroke="#111" stroke-width="0.8"/>
<circle cx="137.0" cy="133.8" r="2.25" fill="rgba(0,165,0,0.66)" stroke="#111" stroke-width="0.8"/>
<circle cx="141.8" cy="135.3" r="2.25" fill="rgba(0,165,0,0.66)" stroke="#111" stroke-width="0.8"/>
<circle cx="146.6" cy="134.8" r="2.25" fill="rgba(0,165,0,0.66)" stroke="#111" stroke-width="0.8"/>
<circle cx="150.8" cy="133.8" r="2.25" fill="rgba(0,165,0,0.66)" stroke="#111" stroke-width="0.8"/>
<circle cx="155.0" cy="135.3" r="2.25" fill="rgba(0,165,0,0.66)" stroke="#111" stroke-width="0.8"/>
<circle cx="158.7" cy="135.9" r="2.25" fill="rgba(0,165,0,0.66)" stroke="#111" stroke-width="0.8"/>
<circle cx="142.3" cy="111.5" r="2.25" fill="rgba(0,165,0,0.66)" stroke="#111" stroke-width="0.8"/>
<circle cx="179.7" cy="123.8" r="2.25" fill="rgba(0,165,0,0.66)" stroke="#111" stroke-width="0.8"/>
<circle cx="183.9" cy="123.2" r="2.25" fill="rgba(0,165,0,0.66)" stroke="#111" stroke-width="0.8"/>
<circle cx="200.3" cy="126.9" r="2.25" fill="rgba(0,165,0,0.66)" stroke="#111" stroke-width="0.8"/>
<circle cx="203.5" cy="127.5" r="2.25" fill="rgba(0,165,0,0.66)" stroke="#111" stroke-width="0.8"/>
<circle cx="197.2" cy="132.8" r="2.25" fill="rgba(0,165,0,0.66)" stroke="#111" stroke-width="0.8"/>
<circle cx="204.6" cy="132.2" r="2.25" fill="rgba(0,165,0,0.66)" stroke="#111" stroke-width="0.8"/>
<circle cx="185.5" cy="131.2" r="2.25" fill="rgba(0,165,0,0.66)" stroke="#111" stroke-width="0.8"/>
<circle cx="179.7" cy="132.2" r="2.25" fill="rgba(0,165,0,0.66)" stroke="#111" stroke-width="0.8"/>
<circle cx="175.5" cy="126.4" r="2.25" fill="rgba(0,165,0,0.66)" stroke="#111" stroke-width="0.8"/>
<circle cx="170.7" cy="125.9" r="2.25" fill="rgba(0,165,0,0.66)" stroke="#111" stroke-width="0.8"/>
<circle cx="165.4" cy="120.1" r="2.25" fill="rgba(0,165,0,0.66)" stroke="#111" stroke-width="0.8"/>
<circle cx="160.1" cy="124.8" r="2.25" fill="rgba(0,165,0,0.66)" stroke="#111" stroke-width="0.8"/>
<circle cx="164.3" cy="124.8" r="2.25" fill="rgba(0,165,0,0.66)" stroke="#111" stroke-width="0.8"/>
<circle cx="168.6" cy="129.0" r="2.25" fill="rgba(0,165,0,0.66)" stroke="#111" stroke-width="0.8"/>
<circle cx="164.3" cy="132.2" r="2.25" fill="rgba(0,165,0,0.66)" stroke="#111" stroke-width="0.8"/>
<circle cx="169.6" cy="133.3" r="2.25" fill="rgba(0,165,0,0.66)" stroke="#111" stroke-width="0.8"/>
<circle cx="173.9" cy="133.8" r="2.25" fill="rgba(0,165,0,0.66)" stroke="#111" stroke-width="0.8"/>
<circle cx="184.5" cy="135.4" r="2.25" fill="rgba(0,165,0,0.66)" stroke="#111" stroke-width="0.8"/>
<circle cx="190.8" cy="135.4" r="2.25" fill="rgba(0,165,0,0.66)" stroke="#111" stroke-width="0.8"/>
<circle cx="201.4" cy="136.5" r="2.25" fill="rgba(0,165,0,0.66)" stroke="#111" stroke-width="0.8"/>
<circle cx="160.1" cy="130.1" r="2.25" fill="rgba(0,165,0,0.66)" stroke="#111" stroke-width="0.8"/>
<circle cx="162.8" cy="110.5" r="2.25" fill="rgba(0,165,0,0.66)" stroke="#111" stroke-width="0.8"/>
<circle cx="165.4" cy="136.6" r="2.25" fill="rgba(0,165,0,0.66)" stroke="#111" stroke-width="0.8"/>
<circle cx="169.6" cy="136.1" r="2.25" fill="rgba(0,165,0,0.66)" stroke="#111" stroke-width="0.8"/>
<circle cx="174.9" cy="137.1" r="2.25" fill="rgba(0,165,0,0.66)" stroke="#111" stroke-width="0.8"/>
<circle cx="179.7" cy="136.6" r="2.25" fill="rgba(0,165,0,0.66)" stroke="#111" stroke-width="0.8"/>
<circle cx="189.7" cy="138.7" r="2.25" fill="rgba(0,165,0,0.66)" stroke="#111" stroke-width="0.8"/>
<circle cx="195.0" cy="138.2" r="2.25" fill="rgba(0,165,0,0.66)" stroke="#111" stroke-width="0.8"/>
<circle cx="204.6" cy="138.2" r="2.25" fill="rgba(0,165,0,0.66)" stroke="#111" stroke-width="0.8"/>
<circle cx="212.5" cy="139.2" r="2.25" fill="rgba(0,165,0,0.66)" stroke="#111" stroke-width="0.8"/>
<circle cx="212.0" cy="142.4" r="2.25" fill="rgba(0,165,0,0.66)" stroke="#111" stroke-width="0.8"/>
<circle cx="216.7" cy="143.5" r="2.25" fill="rgba(0,165,0,0.66)" stroke="#111" stroke-width="0.8"/>
<circle cx="161.2" cy="141.9" r="2.25" fill="rgba(0,165,0,0.66)" stroke="#111" stroke-width="0.8"/>
<circle cx="165.9" cy="141.9" r="2.25" fill="rgba(0,165,0,0.66)" stroke="#111" stroke-width="0.8"/>
<circle cx="172.8" cy="142.9" r="2.25" fill="rgba(0,165,0,0.66)" stroke="#111" stroke-width="0.8"/>
<circle cx="177.6" cy="141.9" r="2.25" fill="rgba(0,165,0,0.66)" stroke="#111" stroke-width="0.8"/>
<circle cx="181.8" cy="139.8" r="2.25" fill="rgba(0,165,0,0.66)" stroke="#111" stroke-width="0.8"/>
<circle cx="186.6" cy="140.8" r="2.25" fill="rgba(0,165,0,0.66)" stroke="#111" stroke-width="0.8"/>
<circle cx="191.9" cy="142.9" r="2.25" fill="rgba(0,165,0,0.66)" stroke="#111" stroke-width="0.8"/>
<circle cx="198.2" cy="144.0" r="2.25" fill="rgba(0,165,0,0.66)" stroke="#111" stroke-width="0.8"/>
<circle cx="203.0" cy="143.5" r="2.25" fill="rgba(0,165,0,0.66)" stroke="#111" stroke-width="0.8"/>
<circle cx="206.7" cy="139.8" r="2.25" fill="rgba(0,165,0,0.66)" stroke="#111" stroke-width="0.8"/>
<circle cx="160.1" cy="148.8" r="2.25" fill="rgba(0,165,0,0.66)" stroke="#111" stroke-width="0.8"/>
<circle cx="163.8" cy="147.7" r="2.25" fill="rgba(0,165,0,0.66)" stroke="#111" stroke-width="0.8"/>
<circle cx="168.1" cy="145.6" r="2.25" fill="rgba(0,165,0,0.66)" stroke="#111" stroke-width="0.8"/>
<circle cx="173.3" cy="146.6" r="2.25" fill="rgba(0,165,0,0.66)" stroke="#111" stroke-width="0.8"/>
<circle cx="178.1" cy="148.2" r="2.25" fill="rgba(0,165,0,0.66)" stroke="#111" stroke-width="0.8"/>
<circle cx="180.8" cy="144.5" r="2.25" fill="rgba(0,165,0,0.66)" stroke="#111" stroke-width="0.8"/>
<circle cx="185.5" cy="146.6" r="2.25" fill="rgba(0,165,0,0.66)" stroke="#111" stroke-width="0.8"/>
<circle cx="190.3" cy="148.2" r="2.25" fill="rgba(0,165,0,0.66)" stroke="#111" stroke-width="0.8"/>
<circle cx="194.0" cy="146.1" r="2.25" fill="rgba(0,165,0,0.66)" stroke="#111" stroke-width="0.8"/>
<circle cx="199.3" cy="147.2" r="2.25" fill="rgba(0,165,0,0.66)" stroke="#111" stroke-width="0.8"/>
<circle cx="204.6" cy="147.7" r="2.25" fill="rgba(0,165,0,0.66)" stroke="#111" stroke-width="0.8"/>
<circle cx="206.7" cy="151.4" r="2.25" fill="rgba(0,165,0,0.66)" stroke="#111" stroke-width="0.8"/>
<circle cx="208.8" cy="150.9" r="2.25" fill="rgba(0,165,0,0.66)" stroke="#111" stroke-width="0.8"/>
<circle cx="204.6" cy="152.5" r="2.25" fill="rgba(0,165,0,0.66)" stroke="#111" stroke-width="0.8"/>
<circle cx="159.1" cy="154.6" r="2.25" fill="rgba(0,165,0,0.66)" stroke="#111" stroke-width="0.8"/>
<circle cx="162.8" cy="154.6" r="2.25" fill="rgba(0,165,0,0.66)" stroke="#111" stroke-width="0.8"/>
<circle cx="166.5" cy="153.5" r="2.25" fill="rgba(0,165,0,0.66)" stroke="#111" stroke-width="0.8"/>
<circle cx="174.9" cy="150.9" r="2.25" fill="rgba(0,165,0,0.66)" stroke="#111" stroke-width="0.8"/>
<circle cx="179.7" cy="150.9" r="2.25" fill="rgba(0,165,0,0.66)" stroke="#111" stroke-width="0.8"/>
<circle cx="184.5" cy="150.3" r="2.25" fill="rgba(0,165,0,0.66)" stroke="#111" stroke-width="0.8"/>
<circle cx="189.7" cy="150.9" r="2.25" fill="rgba(0,165,0,0.66)" stroke="#111" stroke-width="0.8"/>
<circle cx="195.0" cy="151.9" r="2.25" fill="rgba(0,165,0,0.66)" stroke="#111" stroke-width="0.8"/>
<circle cx="187.1" cy="154.6" r="2.25" fill="rgba(0,165,0,0.66)" stroke="#111" stroke-width="0.8"/>
<circle cx="191.9" cy="155.1" r="2.25" fill="rgba(0,165,0,0.66)" stroke="#111" stroke-width="0.8"/>
<circle cx="195.0" cy="154.6" r="2.25" fill="rgba(0,165,0,0.66)" stroke="#111" stroke-width="0.8"/>
<circle cx="179.2" cy="156.7" r="2.25" fill="rgba(0,165,0,0.66)" stroke="#111" stroke-width="0.8"/>
<circle cx="198.7" cy="158.8" r="2.25" fill="rgba(0,165,0,0.66)" stroke="#111" stroke-width="0.8"/>
<circle cx="171.8" cy="149.8" r="2.25" fill="rgba(0,165,0,0.66)" stroke="#111" stroke-width="0.8"/>
<circle cx="108.5" cy="139.7" r="2.25" fill="rgba(0,165,0,0.66)" stroke="#111" stroke-width="0.8"/>
<circle cx="116.9" cy="139.2" r="2.25" fill="rgba(0,165,0,0.66)" stroke="#111" stroke-width="0.8"/>
<circle cx="120.1" cy="142.3" r="2.25" fill="rgba(0,165,0,0.66)" stroke="#111" stroke-width="0.8"/>
<circle cx="121.7" cy="146.1" r="2.25" fill="rgba(0,165,0,0.66)" stroke="#111" stroke-width="0.8"/>
<circle cx="125.9" cy="140.2" r="2.25" fill="rgba(0,165,0,0.66)" stroke="#111" stroke-width="0.8"/>
<circle cx="132.8" cy="138.1" r="2.25" fill="rgba(0,165,0,0.66)" stroke="#111" stroke-width="0.8"/>
<circle cx="136.0" cy="142.3" r="2.25" fill="rgba(0,165,0,0.66)" stroke="#111" stroke-width="0.8"/>
<circle cx="140.2" cy="139.2" r="2.25" fill="rgba(0,165,0,0.66)" stroke="#111" stroke-width="0.8"/>
<circle cx="144.4" cy="139.2" r="2.25" fill="rgba(0,165,0,0.66)" stroke="#111" stroke-width="0.8"/>
<circle cx="148.7" cy="138.1" r="2.25" fill="rgba(0,165,0,0.66)" stroke="#111" stroke-width="0.8"/>
<circle cx="153.4" cy="140.2" r="2.25" fill="rgba(0,165,0,0.66)" stroke="#111" stroke-width="0.8"/>
<circle cx="157.1" cy="138.6" r="2.25" fill="rgba(0,165,0,0.66)" stroke="#111" stroke-width="0.8"/>
<circle cx="140.2" cy="149.8" r="2.25" fill="rgba(0,165,0,0.66)" stroke="#111" stroke-width="0.8"/>
<circle cx="137.6" cy="146.1" r="2.25" fill="rgba(0,165,0,0.66)" stroke="#111" stroke-width="0.8"/>
<circle cx="145.5" cy="143.4" r="2.25" fill="rgba(0,165,0,0.66)" stroke="#111" stroke-width="0.8"/>
<circle cx="150.8" cy="142.9" r="2.25" fill="rgba(0,165,0,0.66)" stroke="#111" stroke-width="0.8"/>
<circle cx="155.6" cy="146.6" r="2.25" fill="rgba(0,165,0,0.66)" stroke="#111" stroke-width="0.8"/>
<circle cx="155.6" cy="150.3" r="2.25" fill="rgba(0,165,0,0.66)" stroke="#111" stroke-width="0.8"/>
<circle cx="99.5" cy="113.1" r="2.25" fill="rgba(0,165,0,0.66)" stroke="#111" stroke-width="0.8"/>
<circle cx="222.2" cy="135.4" r="2.25" fill="rgba(0,165,0,0.66)" stroke="#111" stroke-width="0.8"/>
<circle cx="223.5" cy="141.6" r="2.25" fill="rgba(0,165,0,0.66)" stroke="#111" stroke-width="0.8"/>
<circle cx="236.5" cy="143.5" r="2.25" fill="rgba(0,165,0,0.66)" stroke="#111" stroke-width="0.8"/>
<circle cx="165.4" cy="151.6" r="2.25" fill="rgba(0,165,0,0.66)" stroke="#111" stroke-width="0.8"/>
<circle cx="156.1" cy="113.1" r="2.25" fill="rgba(255,0,0,0.85)" stroke="#111" stroke-width="0.8"/>
<circle cx="211.4" cy="134.3" r="2.25" fill="rgba(255,0,0,0.85)" stroke="#111" stroke-width="0.8"/>
<circle cx="146.6" cy="147.6" r="2.25" fill="rgba(255,0,0,0.66)" stroke="#111" stroke-width="0.8"/>
<circle cx="150.8" cy="147.6" r="2.25" fill="rgba(255,0,0,0.66)" stroke="#111" stroke-width="0.8"/>
<circle cx="148.7" cy="151.3" r="2.25" fill="rgba(255,0,0,0.66)" stroke="#111" stroke-width="0.8"/>
<circle cx="143.4" cy="146.1" r="2.25" fill="rgba(255,0,0,0.66)" stroke="#111" stroke-width="0.8"/>
</g>
<path d="M330.70 4.40C330.72 8.00 330.70 21.82 330.80 26.00C330.90 30.18 331.03 27.73 331.30 29.50C331.57 31.27 332.02 34.52 332.40 36.60C332.78 38.68 333.15 40.52 333.60 42.00C334.05 43.48 334.55 44.32 335.10 45.50C335.65 46.68 336.22 47.92 336.90 49.10C337.58 50.28 338.42 51.43 339.20 52.60C339.98 53.77 341.03 55.20 341.60 56.10C342.17 57.00 341.97 57.10 342.60 58.00C343.23 58.90 344.35 60.32 345.40 61.50C346.45 62.68 347.75 63.92 348.90 65.10C350.05 66.28 351.28 67.43 352.30 68.60C353.32 69.77 354.35 71.20 355.02 72.10C355.68 73.00 355.42 73.10 356.30 74.00C357.18 74.90 358.97 76.32 360.30 77.50C361.63 78.68 363.00 79.92 364.30 81.10C365.60 82.28 366.87 83.43 368.07 84.60C369.28 85.77 370.42 86.95 371.51 88.10C372.61 89.25 373.66 90.33 374.64 91.50C375.62 92.67 376.61 93.92 377.40 95.10C378.19 96.28 378.87 97.43 379.40 98.60C379.93 99.77 380.27 100.98 380.60 102.10C380.93 103.22 381.13 104.40 381.40 105.30C381.67 106.20 381.95 106.55 382.20 107.50C382.45 108.45 382.75 109.82 382.90 111.00C383.05 112.18 383.03 113.43 383.10 114.60C383.17 115.77 383.23 116.27 383.30 118.00C383.37 119.73 383.38 122.67 383.50 125.00C383.62 127.33 383.83 129.92 384.00 132.00C384.17 134.08 384.47 136.00 384.50 137.50C384.53 139.00 384.47 139.82 384.20 141.00C383.93 142.18 383.52 143.42 382.90 144.60C382.28 145.78 381.32 146.98 380.50 148.10C379.68 149.22 378.83 150.37 377.95 151.30C377.07 152.23 376.52 152.58 375.23 153.70C373.95 154.82 371.87 156.55 370.23 158.00C368.59 159.45 366.74 161.23 365.40 162.40C364.06 163.57 363.78 163.85 362.20 165.00C360.62 166.15 357.97 167.85 355.90 169.30C353.83 170.75 351.57 172.25 349.80 173.70C348.03 175.15 346.60 176.55 345.30 178.00C344.00 179.45 342.96 181.15 342.00 182.40C341.04 183.65 340.47 184.35 339.55 185.50C338.63 186.65 337.44 187.93 336.47 189.30C335.50 190.67 334.48 192.25 333.73 193.70C332.99 195.15 332.42 196.28 332.00 198.00C331.58 199.72 331.40 201.67 331.20 204.00C331.00 206.33 330.88 209.00 330.80 212.00C330.72 215.00 330.72 220.33 330.70 222.00" fill="none" stroke="#000000" stroke-width="2.3" stroke-linejoin="round"/>
<path d="M330.70 4.40C330.73 9.67 330.68 29.73 330.90 36.00C331.12 42.27 331.68 40.42 332.00 42.00C332.32 43.58 332.47 44.32 332.80 45.50C333.13 46.68 333.57 47.92 334.00 49.10C334.43 50.28 334.88 51.43 335.40 52.60C335.92 53.77 336.68 55.20 337.10 56.10C337.52 57.00 337.45 57.10 337.90 58.00C338.35 58.90 338.97 60.32 339.80 61.50C340.63 62.68 341.73 63.92 342.90 65.10C344.07 66.28 345.52 67.43 346.80 68.60C348.08 69.77 349.30 70.98 350.60 72.10C351.90 73.22 353.47 74.40 354.60 75.30C355.73 76.20 356.20 76.53 357.40 77.50C358.60 78.47 360.37 79.92 361.80 81.10C363.23 82.28 364.65 83.43 366.00 84.60C367.35 85.77 368.65 86.95 369.90 88.10C371.15 89.25 372.30 90.33 373.50 91.50C374.70 92.67 375.98 93.92 377.10 95.10C378.22 96.28 379.33 97.43 380.20 98.60C381.07 99.77 381.78 100.98 382.30 102.10C382.82 103.22 383.05 104.40 383.30 105.30C383.55 106.20 383.68 106.53 383.80 107.50C383.92 108.47 384.07 109.92 384.00 111.10C383.93 112.28 383.60 113.45 383.40 114.60C383.20 115.75 383.05 116.85 382.80 118.00C382.55 119.15 382.20 120.32 381.90 121.50C381.60 122.68 381.13 123.92 381.00 125.10C380.87 126.28 380.95 127.43 381.10 128.60C381.25 129.77 381.60 130.95 381.90 132.10C382.20 133.25 382.60 134.35 382.90 135.50C383.20 136.65 383.52 138.07 383.70 139.00C383.88 139.93 384.02 140.17 384.00 141.10C383.98 142.03 383.83 143.43 383.60 144.60C383.37 145.77 382.99 146.98 382.60 148.10C382.21 149.22 381.74 150.37 381.24 151.30C380.73 152.23 380.44 152.58 379.58 153.70C378.72 154.82 377.36 156.55 376.07 158.00C374.77 159.45 373.03 161.23 371.80 162.40C370.57 163.57 370.25 163.85 368.70 165.00C367.15 166.15 364.78 167.85 362.50 169.30C360.22 170.75 357.15 172.25 355.00 173.70C352.85 175.15 351.22 176.55 349.60 178.00C347.98 179.45 346.47 181.15 345.30 182.40C344.13 183.65 343.67 184.35 342.56 185.50C341.46 186.65 339.95 187.93 338.67 189.30C337.39 190.67 335.85 192.25 334.88 193.70C333.90 195.15 333.28 196.55 332.80 198.00C332.32 199.45 332.27 200.40 332.00 202.40C331.73 204.40 331.38 206.73 331.20 210.00C331.02 213.27 330.95 220.00 330.90 222.00" fill="none" stroke="#0000ff" stroke-width="2.3" stroke-linejoin="round"/>
<path d="M330.70 4.40C330.78 11.00 331.05 37.15 331.20 44.00C331.35 50.85 331.40 44.65 331.60 45.50C331.80 46.35 332.15 47.92 332.40 49.10C332.65 50.28 332.83 51.43 333.10 52.60C333.37 53.77 333.75 55.20 334.00 56.10C334.25 57.00 334.22 57.10 334.60 58.00C334.98 58.90 335.57 60.32 336.30 61.50C337.03 62.68 337.98 63.92 339.00 65.10C340.02 66.28 341.25 67.43 342.40 68.60C343.55 69.77 344.97 71.20 345.90 72.10C346.83 73.00 346.95 73.10 348.00 74.00C349.05 74.90 350.78 76.32 352.20 77.50C353.62 78.68 355.12 79.92 356.50 81.10C357.88 82.28 359.30 83.43 360.50 84.60C361.70 85.77 362.65 86.95 363.70 88.10C364.75 89.25 365.77 90.33 366.80 91.50C367.83 92.67 368.98 93.92 369.90 95.10C370.82 96.28 371.63 97.43 372.30 98.60C372.97 99.77 373.45 100.98 373.90 102.10C374.35 103.22 374.70 104.32 375.00 105.30C375.30 106.28 375.43 107.03 375.70 108.00C375.97 108.97 376.25 110.00 376.60 111.10C376.95 112.20 377.37 113.43 377.80 114.60C378.23 115.77 378.63 116.95 379.20 118.10C379.77 119.25 380.47 120.33 381.20 121.50C381.93 122.67 382.80 123.92 383.60 125.10C384.40 126.28 385.27 127.43 386.00 128.60C386.73 129.77 387.40 130.98 388.00 132.10C388.60 133.22 389.13 134.40 389.60 135.30C390.07 136.20 390.30 136.53 390.80 137.50C391.30 138.47 392.20 139.92 392.60 141.10C393.00 142.28 393.22 143.43 393.20 144.60C393.18 145.77 392.89 146.98 392.50 148.10C392.11 149.22 391.46 150.37 390.85 151.30C390.24 152.23 389.82 152.58 388.83 153.70C387.85 154.82 386.51 156.55 384.93 158.00C383.36 159.45 381.07 161.23 379.40 162.40C377.73 163.57 377.20 163.85 374.90 165.00C372.60 166.15 368.48 167.85 365.60 169.30C362.72 170.75 360.03 172.25 357.60 173.70C355.17 175.15 352.88 176.55 351.00 178.00C349.12 179.45 347.63 181.07 346.30 182.40C344.97 183.73 343.97 184.85 343.00 186.00C342.03 187.15 341.50 188.02 340.47 189.30C339.44 190.58 337.81 192.25 336.83 193.70C335.85 195.15 335.12 196.55 334.60 198.00C334.08 199.45 333.97 200.95 333.70 202.40C333.43 203.85 333.22 204.77 333.00 206.70C332.78 208.63 332.55 211.45 332.40 214.00C332.25 216.55 332.15 220.67 332.10 222.00" fill="none" stroke="#ff0000" stroke-width="2.3" stroke-linejoin="round"/>
<path d="M330.70 4.00C330.70 19.50 330.65 81.23 330.70 97.00C330.75 112.77 330.77 97.97 331.00 98.60C331.23 99.23 331.65 100.20 332.10 100.80C332.55 101.40 333.13 101.78 333.70 102.20C334.27 102.62 334.60 102.88 335.50 103.30C336.40 103.72 337.32 104.17 339.10 104.70C340.88 105.23 343.85 105.97 346.20 106.50C348.55 107.03 351.10 107.42 353.20 107.90C355.30 108.38 356.83 108.75 358.80 109.40C360.77 110.05 363.37 111.17 365.00 111.80C366.63 112.43 367.42 112.80 368.60 113.20C369.78 113.60 370.33 113.80 372.10 114.20C373.87 114.60 376.85 115.18 379.20 115.60C381.55 116.02 383.85 116.40 386.20 116.70C388.55 117.00 391.25 117.20 393.30 117.40C395.35 117.60 395.72 117.68 398.50 117.90C401.28 118.12 406.42 118.43 410.00 118.70C413.58 118.97 416.58 119.23 420.00 119.50C423.42 119.77 424.67 119.92 430.50 120.30C436.33 120.68 446.85 121.27 455.00 121.80C463.15 122.33 471.23 122.88 479.40 123.50C487.57 124.12 495.77 124.75 504.00 125.50C512.23 126.25 522.20 127.30 528.80 128.00C535.40 128.70 540.15 129.23 543.60 129.70C547.05 130.17 548.18 130.52 549.50 130.80C550.82 131.08 551.50 131.18 551.50 131.40C551.50 131.62 550.82 131.78 549.50 132.10C548.18 132.42 547.05 132.88 543.60 133.30C540.15 133.72 535.40 134.08 528.80 134.60C522.20 135.12 512.23 135.90 504.00 136.40C495.77 136.90 487.57 137.07 479.40 137.60C471.23 138.13 462.90 138.95 455.00 139.60C447.10 140.25 438.83 140.85 432.00 141.50C425.17 142.15 418.33 142.98 414.00 143.50C409.67 144.02 409.08 144.22 406.00 144.60C402.92 144.98 398.50 145.40 395.50 145.80C392.50 146.20 390.58 146.58 388.00 147.00C385.42 147.42 382.83 147.83 380.00 148.30C377.17 148.77 373.75 149.30 371.00 149.80C368.25 150.30 366.08 150.73 363.50 151.30C360.92 151.87 357.92 152.58 355.50 153.20C353.08 153.82 351.15 154.37 349.00 155.00C346.85 155.63 344.48 156.37 342.60 157.00C340.72 157.63 339.20 158.22 337.70 158.80C336.20 159.38 334.63 159.92 333.60 160.50C332.57 161.08 331.97 161.72 331.50 162.30C331.03 162.88 330.93 163.38 330.80 164.00C330.67 164.62 330.72 156.33 330.70 166.00C330.68 175.67 330.70 212.67 330.70 222.00" fill="none" stroke="#009900" stroke-width="2.3" stroke-linejoin="round"/>
<path d="M388.8 16.80H408.8" stroke="#000000" stroke-width="2.2"/>
<text x="410.40" y="20.00" font-size="8.85" text-anchor="start" font-weight="normal" >Observed trends</text>
<path d="M388.8 27.77H408.8" stroke="#0000ff" stroke-width="2.2"/>
<text x="410.40" y="30.97" font-size="8.85" text-anchor="start" font-weight="normal" >Regressed trends from ERA reanalysis</text>
<path d="M388.8 38.74H408.8" stroke="#ff0000" stroke-width="2.2"/>
<text x="410.40" y="41.94" font-size="8.85" text-anchor="start" font-weight="normal" >Regressed trends from ALL forcing</text>
<path d="M388.8 49.71H408.8" stroke="#009900" stroke-width="2.2"/>
<text x="410.40" y="52.91" font-size="8.85" text-anchor="start" font-weight="normal" >Regressed trends from NAT forcing</text>
<rect x="68" y="15.6" width="12.3" height="7" fill="#ff0000"/>
<rect x="68" y="28.4" width="12.3" height="7.2" fill="#009900"/>
<text x="82.00" y="22.90" font-size="9.8" text-anchor="start" font-weight="normal" >ALL forcing</text>
<text x="82.00" y="35.60" font-size="9.8" text-anchor="start" font-weight="normal" >NAT forcing</text>
<text x="146.60" y="22.90" font-size="9.8" text-anchor="start" font-weight="normal" >Northern stations</text>
<text x="146.60" y="35.60" font-size="9.8" text-anchor="start" font-weight="normal" >Southern stations</text>
<path d="M140.3 20.6L142.7 16.6L145.1 20.6Z" fill="none" stroke="#000" stroke-width="0.7"/>
<circle cx="142.5" cy="31.7" r="2.1" fill="none" stroke="#000" stroke-width="0.7"/>
</svg>
</body></html>
